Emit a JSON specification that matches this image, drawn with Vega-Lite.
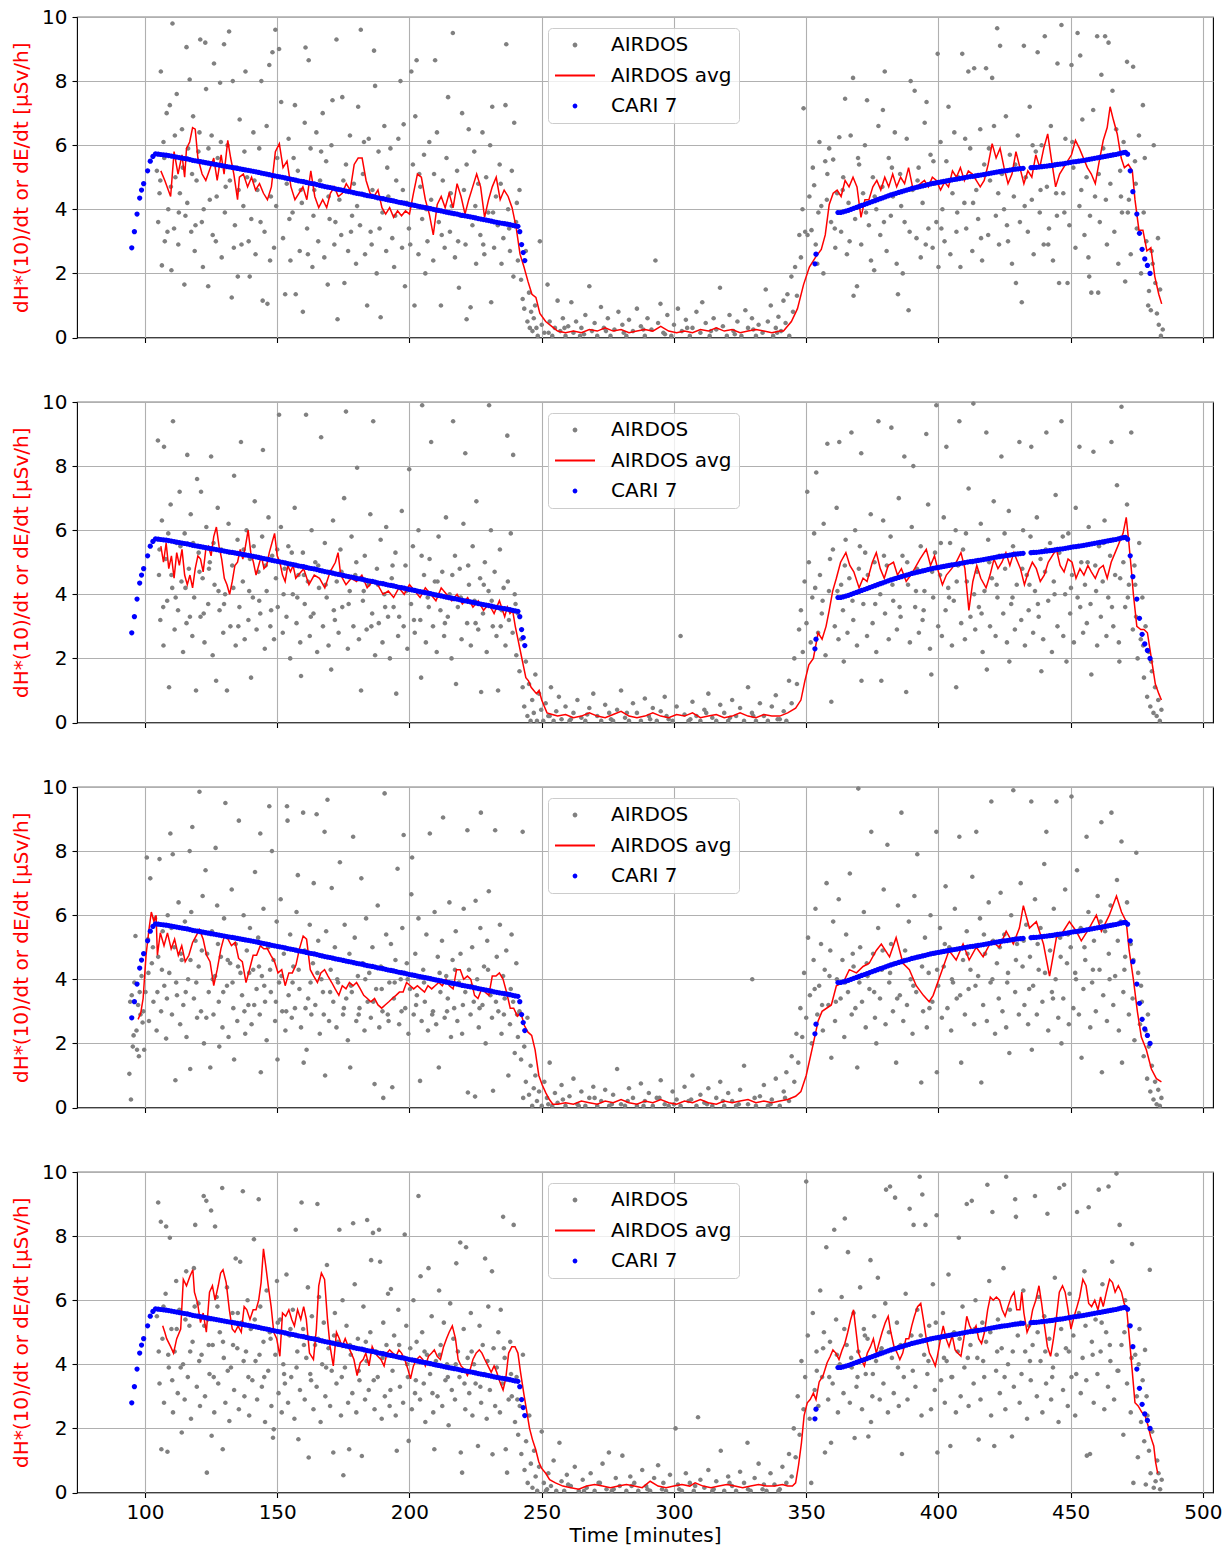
{
"$schema":"https://vega.github.io/schema/vega-lite/v6.json",
"background":"white",
"padding":{"left":11,"top":6,"right":5,"bottom":5},
"bounds":"flush",
"spacing":64,
"config":{
"view":{"stroke":"black","strokeWidth":1.1},
"font":"DejaVu Sans",
"axis":{"labelFont":"DejaVu Sans","labelFontSize":20,"labelColor":"black","titleFont":"DejaVu Sans","titleFontSize":20,"titleFontWeight":"normal","titleColor":"black","tickColor":"black","tickSize":5,"tickWidth":1.1,"labelPadding":5,"domain":false,"gridColor":"#b0b0b0","gridWidth":1.1,"labelFlush":false},
"legend":{"orient":"none","legendX":471,"legendY":11,"padding":7,"fillColor":"rgba(255,255,255,0.8)","strokeColor":"#cccccc","cornerRadius":4,"labelFont":"DejaVu Sans","labelFontSize":20,"labelColor":"black","labelOffset":16,"symbolSize":1600,"symbolStrokeWidth":0,"clipHeight":20,"rowPadding":10.5,"title":null}
},
"resolve":{"scale":{"color":"independent","shape":"independent"},"legend":{"color":"independent","shape":"independent"}},
"datasets":{
"c":[{"t":95,"v":2.8},{"t":96,"v":3.3},{"t":97,"v":3.85},{"t":98,"v":4.35},{"t":98.7,"v":4.6},{"t":99.5,"v":4.8},{"t":101,"v":5.2},{"t":102,"v":5.5},{"t":103,"v":5.65},{"t":104,"v":5.73},{"t":105,"v":5.72},{"t":106,"v":5.71},{"t":107,"v":5.7},{"t":108,"v":5.69},{"t":109,"v":5.675},{"t":110,"v":5.66},{"t":111,"v":5.645},{"t":112,"v":5.63},{"t":113,"v":5.615},{"t":114,"v":5.6},{"t":115,"v":5.585},{"t":116,"v":5.57},{"t":117,"v":5.55},{"t":118,"v":5.53},{"t":119,"v":5.515},{"t":120,"v":5.5},{"t":121,"v":5.485},{"t":122,"v":5.47},{"t":123,"v":5.455},{"t":124,"v":5.44},{"t":125,"v":5.425},{"t":126,"v":5.41},{"t":127,"v":5.395},{"t":128,"v":5.38},{"t":129,"v":5.365},{"t":130,"v":5.35},{"t":131,"v":5.335},{"t":132,"v":5.32},{"t":133,"v":5.305},{"t":134,"v":5.29},{"t":135,"v":5.275},{"t":136,"v":5.26},{"t":137,"v":5.245},{"t":138,"v":5.23},{"t":139,"v":5.215},{"t":140,"v":5.2},{"t":141,"v":5.185},{"t":142,"v":5.17},{"t":143,"v":5.15},{"t":144,"v":5.13},{"t":145,"v":5.115},{"t":146,"v":5.1},{"t":147,"v":5.08},{"t":148,"v":5.06},{"t":149,"v":5.045},{"t":150,"v":5.03},{"t":151,"v":5.015},{"t":152,"v":5.0},{"t":153,"v":4.98},{"t":154,"v":4.96},{"t":155,"v":4.945},{"t":156,"v":4.93},{"t":157,"v":4.91},{"t":158,"v":4.89},{"t":159,"v":4.875},{"t":160,"v":4.86},{"t":161,"v":4.84},{"t":162,"v":4.82},{"t":163,"v":4.805},{"t":164,"v":4.79},{"t":165,"v":4.77},{"t":166,"v":4.75},{"t":167,"v":4.73},{"t":168,"v":4.71},{"t":169,"v":4.695},{"t":170,"v":4.68},{"t":171,"v":4.66},{"t":172,"v":4.64},{"t":173,"v":4.625},{"t":174,"v":4.61},{"t":175,"v":4.59},{"t":176,"v":4.57},{"t":177,"v":4.555},{"t":178,"v":4.54},{"t":179,"v":4.52},{"t":180,"v":4.5},{"t":181,"v":4.485},{"t":182,"v":4.47},{"t":183,"v":4.45},{"t":184,"v":4.43},{"t":185,"v":4.415},{"t":186,"v":4.4},{"t":187,"v":4.38},{"t":188,"v":4.36},{"t":189,"v":4.345},{"t":190,"v":4.33},{"t":191,"v":4.31},{"t":192,"v":4.29},{"t":193,"v":4.275},{"t":194,"v":4.26},{"t":195,"v":4.24},{"t":196,"v":4.22},{"t":197,"v":4.205},{"t":198,"v":4.19},{"t":199,"v":4.17},{"t":200,"v":4.15},{"t":201,"v":4.135},{"t":202,"v":4.12},{"t":203,"v":4.1},{"t":204,"v":4.08},{"t":205,"v":4.065},{"t":206,"v":4.05},{"t":207,"v":4.035},{"t":208,"v":4.02},{"t":209,"v":4.0},{"t":210,"v":3.98},{"t":211,"v":3.965},{"t":212,"v":3.95},{"t":213,"v":3.93},{"t":214,"v":3.91},{"t":215,"v":3.895},{"t":216,"v":3.88},{"t":217,"v":3.865},{"t":218,"v":3.85},{"t":219,"v":3.83},{"t":220,"v":3.81},{"t":221,"v":3.795},{"t":222,"v":3.78},{"t":223,"v":3.765},{"t":224,"v":3.75},{"t":225,"v":3.73},{"t":226,"v":3.71},{"t":227,"v":3.695},{"t":228,"v":3.68},{"t":229,"v":3.665},{"t":230,"v":3.65},{"t":231,"v":3.63},{"t":232,"v":3.61},{"t":233,"v":3.595},{"t":234,"v":3.58},{"t":235,"v":3.565},{"t":236,"v":3.55},{"t":237,"v":3.535},{"t":238,"v":3.52},{"t":239,"v":3.5},{"t":240,"v":3.48},{"t":241,"v":3.47},{"t":241.7,"v":3.3},{"t":242.4,"v":2.9},{"t":243,"v":2.65},{"t":243.6,"v":2.4},{"t":353.3,"v":2.3},{"t":353.7,"v":2.6},{"t":362,"v":3.9},{"t":363,"v":3.9},{"t":364,"v":3.92},{"t":365,"v":3.945},{"t":366,"v":3.97},{"t":367,"v":4.0},{"t":368,"v":4.03},{"t":369,"v":4.06},{"t":370,"v":4.09},{"t":371,"v":4.12},{"t":372,"v":4.15},{"t":373,"v":4.18},{"t":374,"v":4.21},{"t":375,"v":4.24},{"t":376,"v":4.27},{"t":377,"v":4.3},{"t":378,"v":4.33},{"t":379,"v":4.36},{"t":380,"v":4.39},{"t":381,"v":4.42},{"t":382,"v":4.45},{"t":383,"v":4.475},{"t":384,"v":4.5},{"t":385,"v":4.525},{"t":386,"v":4.55},{"t":387,"v":4.575},{"t":388,"v":4.6},{"t":389,"v":4.625},{"t":390,"v":4.65},{"t":391,"v":4.67},{"t":392,"v":4.69},{"t":393,"v":4.71},{"t":394,"v":4.73},{"t":395,"v":4.75},{"t":396,"v":4.77},{"t":397,"v":4.79},{"t":398,"v":4.81},{"t":399,"v":4.825},{"t":400,"v":4.84},{"t":401,"v":4.855},{"t":402,"v":4.87},{"t":403,"v":4.885},{"t":404,"v":4.9},{"t":405,"v":4.915},{"t":406,"v":4.93},{"t":407,"v":4.945},{"t":408,"v":4.96},{"t":409,"v":4.975},{"t":410,"v":4.99},{"t":411,"v":5.005},{"t":412,"v":5.02},{"t":413,"v":5.03},{"t":414,"v":5.04},{"t":415,"v":5.055},{"t":416,"v":5.07},{"t":417,"v":5.085},{"t":418,"v":5.1},{"t":419,"v":5.115},{"t":420,"v":5.13},{"t":421,"v":5.145},{"t":422,"v":5.16},{"t":423,"v":5.175},{"t":424,"v":5.19},{"t":425,"v":5.2},{"t":426,"v":5.21},{"t":427,"v":5.225},{"t":428,"v":5.24},{"t":429,"v":5.25},{"t":430,"v":5.26},{"t":431,"v":5.27},{"t":432,"v":5.28},{"t":435,"v":5.3},{"t":436,"v":5.305},{"t":437,"v":5.31},{"t":438,"v":5.32},{"t":439,"v":5.33},{"t":440,"v":5.34},{"t":441,"v":5.35},{"t":442,"v":5.36},{"t":443,"v":5.37},{"t":444,"v":5.385},{"t":445,"v":5.4},{"t":446,"v":5.41},{"t":447,"v":5.42},{"t":448,"v":5.435},{"t":449,"v":5.45},{"t":450,"v":5.465},{"t":451,"v":5.48},{"t":452,"v":5.49},{"t":453,"v":5.5},{"t":454,"v":5.515},{"t":455,"v":5.53},{"t":456,"v":5.545},{"t":457,"v":5.56},{"t":458,"v":5.575},{"t":459,"v":5.59},{"t":460,"v":5.605},{"t":461,"v":5.62},{"t":462,"v":5.635},{"t":463,"v":5.65},{"t":464,"v":5.665},{"t":465,"v":5.68},{"t":466,"v":5.695},{"t":467,"v":5.71},{"t":468,"v":5.73},{"t":469,"v":5.75},{"t":470,"v":5.77},{"t":470.7,"v":5.78},{"t":471.5,"v":5.72},{"t":472.5,"v":5.2},{"t":473.5,"v":4.55},{"t":475,"v":3.85},{"t":476,"v":3.25},{"t":477,"v":2.75},{"t":478,"v":2.45},{"t":479,"v":2.25},{"t":480,"v":2.0}],
"r1":[{"t":106,"v":5.2},{"t":107.5,"v":4.9},{"t":109.7,"v":4.4},{"t":111,"v":5.8},{"t":112.5,"v":5.1},{"t":114,"v":5.7},{"t":115,"v":5.0},{"t":115.7,"v":5.9},{"t":116.9,"v":6.1},{"t":118,"v":6.55},{"t":119,"v":6.5},{"t":120,"v":5.6},{"t":121.6,"v":5.1},{"t":123,"v":4.9},{"t":124.5,"v":5.25},{"t":126,"v":5.6},{"t":127.3,"v":4.9},{"t":128.8,"v":5.7},{"t":129.9,"v":5.1},{"t":131.3,"v":6.15},{"t":132.4,"v":5.6},{"t":133.6,"v":5.1},{"t":135,"v":4.3},{"t":135.7,"v":5.0},{"t":137.2,"v":5.1},{"t":138.8,"v":4.7},{"t":140.3,"v":5.0},{"t":141.8,"v":4.6},{"t":143.3,"v":4.8},{"t":144.8,"v":4.5},{"t":146.3,"v":4.3},{"t":147.8,"v":4.7},{"t":149.3,"v":5.8},{"t":150.8,"v":6.05},{"t":152.2,"v":5.3},{"t":153.7,"v":5.5},{"t":155.2,"v":4.7},{"t":156.7,"v":4.3},{"t":158.2,"v":4.5},{"t":159.7,"v":4.7},{"t":161.2,"v":4.3},{"t":162.7,"v":5.2},{"t":164.2,"v":4.4},{"t":165.7,"v":4.05},{"t":167.2,"v":4.3},{"t":168.7,"v":4.05},{"t":170.1,"v":4.5},{"t":171.6,"v":4.7},{"t":173.1,"v":4.4},{"t":174.6,"v":4.5},{"t":176.1,"v":4.8},{"t":177.6,"v":4.6},{"t":179.1,"v":5.4},{"t":180.6,"v":5.6},{"t":182.1,"v":5.6},{"t":183.6,"v":4.9},{"t":185.1,"v":4.5},{"t":186.6,"v":4.4},{"t":188.1,"v":4.6},{"t":189.6,"v":4.05},{"t":191,"v":3.85},{"t":192.5,"v":4.05},{"t":194,"v":3.75},{"t":195.5,"v":3.95},{"t":197,"v":3.8},{"t":198.5,"v":3.95},{"t":200,"v":3.85},{"t":201.5,"v":4.5},{"t":203,"v":5.1},{"t":204.5,"v":5.0},{"t":206,"v":4.3},{"t":207.5,"v":3.85},{"t":209,"v":3.2},{"t":210.5,"v":4.15},{"t":212,"v":4.4},{"t":213.5,"v":4.05},{"t":215,"v":4.5},{"t":216.5,"v":4.05},{"t":218,"v":4.8},{"t":219.5,"v":4.4},{"t":221,"v":3.85},{"t":222.4,"v":4.3},{"t":223.9,"v":4.7},{"t":225.4,"v":5.1},{"t":226.9,"v":4.7},{"t":228.4,"v":3.75},{"t":229.9,"v":4.3},{"t":231.3,"v":4.7},{"t":232.8,"v":5.0},{"t":234.3,"v":4.3},{"t":235.8,"v":4.6},{"t":237.3,"v":4.4},{"t":238.8,"v":4.05},{"t":240.3,"v":3.45},{"t":241.8,"v":2.6},{"t":243.3,"v":2.2},{"t":244.8,"v":1.75},{"t":246.3,"v":1.35},{"t":247.8,"v":1.25},{"t":249.3,"v":0.75},{"t":251.5,"v":0.5},{"t":254.5,"v":0.3},{"t":256,"v":0.2},{"t":259,"v":0.15},{"t":262,"v":0.2},{"t":265,"v":0.15},{"t":268,"v":0.25},{"t":271,"v":0.2},{"t":274,"v":0.3},{"t":277,"v":0.2},{"t":280,"v":0.25},{"t":283,"v":0.15},{"t":286,"v":0.2},{"t":289,"v":0.25},{"t":292,"v":0.2},{"t":295,"v":0.35},{"t":298,"v":0.2},{"t":301,"v":0.15},{"t":304,"v":0.2},{"t":307,"v":0.15},{"t":310,"v":0.25},{"t":313,"v":0.2},{"t":316,"v":0.3},{"t":319,"v":0.2},{"t":322,"v":0.25},{"t":325,"v":0.15},{"t":328,"v":0.2},{"t":331,"v":0.25},{"t":334,"v":0.2},{"t":337,"v":0.15},{"t":340,"v":0.2},{"t":341.4,"v":0.2},{"t":344.4,"v":0.5},{"t":346.7,"v":0.9},{"t":349,"v":1.65},{"t":351.2,"v":2.2},{"t":353.5,"v":2.5},{"t":355.7,"v":2.75},{"t":357.2,"v":3.2},{"t":358.7,"v":4.15},{"t":360.2,"v":4.5},{"t":361.7,"v":4.6},{"t":363.2,"v":4.4},{"t":364.7,"v":4.9},{"t":366.2,"v":4.7},{"t":367.7,"v":5.0},{"t":369.2,"v":4.7},{"t":370.7,"v":3.75},{"t":372.2,"v":4.3},{"t":373.7,"v":4.3},{"t":375.2,"v":4.7},{"t":376.7,"v":4.9},{"t":378.2,"v":4.6},{"t":379.7,"v":5.0},{"t":381.2,"v":4.7},{"t":382.7,"v":5.1},{"t":384.2,"v":4.7},{"t":385.7,"v":5.0},{"t":387.2,"v":4.8},{"t":388.7,"v":5.3},{"t":390.2,"v":4.7},{"t":391.7,"v":4.7},{"t":393.2,"v":4.8},{"t":394.7,"v":4.9},{"t":396.2,"v":4.7},{"t":397.7,"v":5.0},{"t":399.2,"v":4.9},{"t":400.8,"v":4.6},{"t":402.3,"v":4.85},{"t":403.8,"v":4.7},{"t":405.3,"v":5.2},{"t":406.8,"v":5.0},{"t":408.3,"v":5.3},{"t":409.8,"v":4.9},{"t":411.3,"v":5.2},{"t":412.8,"v":5.1},{"t":414.3,"v":4.9},{"t":415.8,"v":4.7},{"t":417.3,"v":4.9},{"t":418.8,"v":5.4},{"t":420.3,"v":6.05},{"t":421.8,"v":5.6},{"t":423.3,"v":5.9},{"t":424.8,"v":5.3},{"t":426.3,"v":4.8},{"t":427.8,"v":5.1},{"t":429.3,"v":5.8},{"t":430.8,"v":5.3},{"t":432.3,"v":4.8},{"t":433.8,"v":5.2},{"t":435.3,"v":5.0},{"t":436.8,"v":5.7},{"t":438.3,"v":5.3},{"t":439.8,"v":5.9},{"t":441.3,"v":6.35},{"t":442.8,"v":5.5},{"t":444.3,"v":4.7},{"t":445.8,"v":5.1},{"t":447.3,"v":5.3},{"t":448.8,"v":5.5},{"t":450.3,"v":5.7},{"t":451.8,"v":6.15},{"t":453.3,"v":5.9},{"t":454.8,"v":5.6},{"t":456.3,"v":5.3},{"t":457.8,"v":5.1},{"t":459.3,"v":4.8},{"t":460.8,"v":5.5},{"t":462.3,"v":6.15},{"t":463.8,"v":6.55},{"t":464.9,"v":7.2},{"t":466.1,"v":6.8},{"t":467.6,"v":6.35},{"t":469.1,"v":5.6},{"t":470.3,"v":5.3},{"t":471.8,"v":5.4},{"t":473.3,"v":5.2},{"t":474.3,"v":4.3},{"t":475.8,"v":3.35},{"t":477.3,"v":3.35},{"t":478.8,"v":2.7},{"t":480.3,"v":2.8},{"t":481.8,"v":1.9},{"t":483.3,"v":1.35},{"t":484.4,"v":1.05}],
"r2":[{"t":106,"v":5.5},{"t":107,"v":5.0},{"t":108,"v":5.6},{"t":109,"v":4.8},{"t":110,"v":5.2},{"t":111,"v":4.5},{"t":112,"v":5.3},{"t":113,"v":4.9},{"t":114,"v":5.4},{"t":115,"v":4.6},{"t":116,"v":4.3},{"t":117,"v":4.6},{"t":118,"v":4.2},{"t":119,"v":4.8},{"t":120,"v":5.2},{"t":121,"v":5.1},{"t":122,"v":4.7},{"t":123,"v":5.4},{"t":124,"v":5.5},{"t":125,"v":5.2},{"t":126,"v":5.8},{"t":127,"v":6.1},{"t":128,"v":5.5},{"t":129,"v":5.1},{"t":130,"v":4.5},{"t":131,"v":4.3},{"t":132,"v":4.0},{"t":133,"v":4.4},{"t":134,"v":4.9},{"t":135,"v":5.0},{"t":136,"v":5.4},{"t":137,"v":5.1},{"t":138,"v":5.5},{"t":139,"v":6.0},{"t":140,"v":5.3},{"t":141,"v":5.0},{"t":142,"v":4.6},{"t":143,"v":4.9},{"t":144,"v":5.2},{"t":145,"v":4.8},{"t":146,"v":4.9},{"t":147,"v":5.3},{"t":148,"v":5.6},{"t":149,"v":5.9},{"t":150,"v":5.2},{"t":151,"v":5.0},{"t":152,"v":4.6},{"t":153,"v":4.4},{"t":154,"v":4.9},{"t":155,"v":4.7},{"t":156,"v":4.9},{"t":157,"v":4.5},{"t":158,"v":4.6},{"t":160,"v":4.8},{"t":162,"v":4.3},{"t":164,"v":4.6},{"t":166,"v":4.5},{"t":168,"v":4.2},{"t":170,"v":4.7},{"t":172,"v":5.0},{"t":173,"v":5.3},{"t":174,"v":4.6},{"t":176,"v":4.3},{"t":178,"v":4.5},{"t":180,"v":4.4},{"t":182,"v":4.6},{"t":184,"v":4.2},{"t":186,"v":4.4},{"t":188,"v":4.3},{"t":190,"v":4.0},{"t":192,"v":4.1},{"t":194,"v":3.9},{"t":196,"v":4.2},{"t":198,"v":4.0},{"t":200,"v":4.3},{"t":202,"v":4.1},{"t":204,"v":3.9},{"t":206,"v":4.2},{"t":208,"v":4.0},{"t":210,"v":3.8},{"t":212,"v":4.2},{"t":214,"v":4.0},{"t":216,"v":3.8},{"t":218,"v":4.0},{"t":220,"v":3.7},{"t":222,"v":3.9},{"t":224,"v":3.6},{"t":226,"v":3.8},{"t":228,"v":3.5},{"t":230,"v":3.7},{"t":232,"v":3.4},{"t":234,"v":3.8},{"t":236,"v":3.3},{"t":237,"v":3.6},{"t":238,"v":3.4},{"t":239,"v":3.5},{"t":240,"v":3.0},{"t":241,"v":2.6},{"t":242,"v":2.2},{"t":243,"v":1.8},{"t":244,"v":1.4},{"t":245,"v":1.3},{"t":246,"v":1.1},{"t":247,"v":1.0},{"t":248,"v":0.9},{"t":249,"v":1.0},{"t":250,"v":0.7},{"t":251,"v":0.5},{"t":252,"v":0.3},{"t":254,"v":0.25},{"t":256,"v":0.2},{"t":259,"v":0.25},{"t":262,"v":0.15},{"t":265,"v":0.2},{"t":268,"v":0.3},{"t":271,"v":0.2},{"t":274,"v":0.15},{"t":277,"v":0.25},{"t":280,"v":0.35},{"t":283,"v":0.2},{"t":286,"v":0.15},{"t":289,"v":0.2},{"t":292,"v":0.3},{"t":295,"v":0.2},{"t":298,"v":0.15},{"t":301,"v":0.25},{"t":304,"v":0.2},{"t":307,"v":0.3},{"t":310,"v":0.15},{"t":313,"v":0.2},{"t":316,"v":0.25},{"t":319,"v":0.15},{"t":322,"v":0.2},{"t":325,"v":0.3},{"t":328,"v":0.2},{"t":331,"v":0.15},{"t":334,"v":0.25},{"t":337,"v":0.2},{"t":340,"v":0.2},{"t":343,"v":0.3},{"t":346,"v":0.45},{"t":348,"v":0.7},{"t":349.5,"v":1.3},{"t":351,"v":1.8},{"t":352.7,"v":2.0},{"t":354.5,"v":2.8},{"t":356,"v":2.6},{"t":357.5,"v":3.0},{"t":358.7,"v":3.5},{"t":360,"v":4.1},{"t":361.4,"v":4.5},{"t":363,"v":5.0},{"t":365,"v":5.3},{"t":366.5,"v":4.9},{"t":368,"v":4.7},{"t":370,"v":4.2},{"t":371.5,"v":4.5},{"t":373,"v":4.4},{"t":375,"v":5.0},{"t":376.5,"v":5.3},{"t":378,"v":4.8},{"t":379.5,"v":4.5},{"t":381,"v":4.9},{"t":383,"v":5.0},{"t":384.5,"v":4.6},{"t":386,"v":4.8},{"t":387.8,"v":4.4},{"t":389.5,"v":4.6},{"t":391,"v":4.8},{"t":393,"v":5.1},{"t":395.4,"v":5.4},{"t":397,"v":4.9},{"t":398.5,"v":5.2},{"t":400,"v":4.7},{"t":401.5,"v":4.3},{"t":403,"v":4.6},{"t":405,"v":4.8},{"t":406.7,"v":5.0},{"t":408.5,"v":5.3},{"t":410,"v":4.8},{"t":411.5,"v":3.5},{"t":413,"v":4.4},{"t":414.5,"v":4.9},{"t":416,"v":4.5},{"t":418,"v":4.2},{"t":419.5,"v":4.6},{"t":421,"v":5.1},{"t":422.5,"v":4.8},{"t":424,"v":5.0},{"t":425.5,"v":5.3},{"t":427,"v":4.9},{"t":428.5,"v":5.3},{"t":431,"v":4.8},{"t":432.5,"v":4.3},{"t":434,"v":4.7},{"t":435.5,"v":5.0},{"t":437,"v":4.8},{"t":438.5,"v":4.4},{"t":440,"v":4.6},{"t":441.5,"v":5.0},{"t":443,"v":5.2},{"t":444.6,"v":5.4},{"t":446,"v":4.9},{"t":447.5,"v":4.7},{"t":449,"v":5.1},{"t":450.5,"v":5.0},{"t":452,"v":4.5},{"t":453.5,"v":4.8},{"t":455,"v":4.6},{"t":456.5,"v":4.9},{"t":457.8,"v":4.7},{"t":459.3,"v":4.5},{"t":460.8,"v":4.8},{"t":462.3,"v":4.9},{"t":463.8,"v":4.5},{"t":465.3,"v":5.0},{"t":466.8,"v":5.3},{"t":468.3,"v":5.6},{"t":469.8,"v":5.9},{"t":471,"v":6.4},{"t":472,"v":5.6},{"t":473,"v":4.7},{"t":473.7,"v":4.0},{"t":475,"v":3.0},{"t":476.5,"v":2.9},{"t":477.7,"v":2.9},{"t":479,"v":2.8},{"t":480.5,"v":2.0},{"t":482,"v":1.2},{"t":483.3,"v":0.9},{"t":484.3,"v":0.7}],
"r3":[{"t":97.4,"v":2.75},{"t":98.4,"v":2.95},{"t":99.3,"v":3.4},{"t":100.4,"v":4.75},{"t":101.5,"v":5.55},{"t":102.4,"v":6.1},{"t":103.4,"v":5.8},{"t":104.2,"v":6.0},{"t":104.7,"v":4.75},{"t":105.8,"v":5.45},{"t":107.2,"v":5.05},{"t":108.5,"v":5.45},{"t":109.9,"v":4.95},{"t":111.2,"v":5.25},{"t":112.6,"v":4.75},{"t":113.9,"v":5.05},{"t":115.2,"v":4.55},{"t":116.6,"v":4.75},{"t":118,"v":5.15},{"t":119.3,"v":5.35},{"t":120.6,"v":5.55},{"t":122,"v":5.25},{"t":123.3,"v":4.75},{"t":124.6,"v":4.55},{"t":126,"v":3.8},{"t":127.3,"v":4.3},{"t":128.7,"v":4.95},{"t":130,"v":5.35},{"t":131.4,"v":5.25},{"t":132.7,"v":5.05},{"t":134.1,"v":5.15},{"t":135.4,"v":4.65},{"t":136.8,"v":4.55},{"t":138.2,"v":3.9},{"t":139.5,"v":4.3},{"t":140.9,"v":4.75},{"t":142.2,"v":4.75},{"t":143.6,"v":5.05},{"t":144.9,"v":4.95},{"t":146.3,"v":4.95},{"t":147.6,"v":4.75},{"t":149,"v":4.55},{"t":150.3,"v":4.2},{"t":151.7,"v":4.3},{"t":153,"v":3.8},{"t":154.4,"v":4.2},{"t":155.7,"v":4.2},{"t":157.1,"v":4.45},{"t":158.4,"v":4.95},{"t":159.8,"v":5.35},{"t":161.1,"v":5.25},{"t":162.5,"v":4.3},{"t":163.8,"v":4.1},{"t":165.2,"v":3.9},{"t":166.5,"v":4.2},{"t":167.9,"v":4.3},{"t":169.2,"v":4.1},{"t":170.6,"v":3.9},{"t":171.9,"v":3.7},{"t":173.3,"v":3.5},{"t":174.6,"v":3.8},{"t":176,"v":3.7},{"t":177.3,"v":3.9},{"t":178.7,"v":3.8},{"t":180,"v":3.9},{"t":181.4,"v":3.7},{"t":182.7,"v":3.5},{"t":184.1,"v":3.4},{"t":185.4,"v":3.3},{"t":186.8,"v":3.4},{"t":188.1,"v":3.2},{"t":189.5,"v":3.1},{"t":190.8,"v":3.2},{"t":192.2,"v":3.3},{"t":193.5,"v":3.4},{"t":194.9,"v":3.5},{"t":196.2,"v":3.6},{"t":197.6,"v":3.6},{"t":198.9,"v":3.9},{"t":200.3,"v":3.8},{"t":201.6,"v":3.7},{"t":203,"v":3.8},{"t":204.3,"v":3.7},{"t":205.7,"v":3.6},{"t":207,"v":3.8},{"t":208.4,"v":3.7},{"t":209.7,"v":3.8},{"t":211.1,"v":3.9},{"t":212.4,"v":3.8},{"t":213.8,"v":4.0},{"t":215.1,"v":3.8},{"t":216.5,"v":3.7},{"t":217.8,"v":4.3},{"t":219.2,"v":4.3},{"t":220.5,"v":4.0},{"t":221.9,"v":4.1},{"t":223.2,"v":4.0},{"t":224.6,"v":3.5},{"t":225.9,"v":3.4},{"t":227.3,"v":3.7},{"t":228.6,"v":3.6},{"t":230,"v":3.5},{"t":231.3,"v":4.1},{"t":232.7,"v":4.1},{"t":234,"v":4.2},{"t":235.4,"v":4.0},{"t":236.7,"v":3.6},{"t":238.1,"v":3.1},{"t":239.4,"v":3.1},{"t":240.8,"v":2.85},{"t":242.1,"v":2.95},{"t":243.5,"v":2.55},{"t":244.8,"v":2.35},{"t":246.2,"v":2.25},{"t":247.5,"v":1.8},{"t":248.9,"v":1.0},{"t":250.2,"v":0.7},{"t":251.6,"v":0.45},{"t":252.9,"v":0.25},{"t":254.2,"v":0.1},{"t":256,"v":0.1},{"t":259,"v":0.15},{"t":262,"v":0.1},{"t":265,"v":0.2},{"t":268,"v":0.15},{"t":271,"v":0.1},{"t":274,"v":0.2},{"t":277,"v":0.15},{"t":280,"v":0.25},{"t":283,"v":0.15},{"t":286,"v":0.1},{"t":289,"v":0.2},{"t":292,"v":0.15},{"t":295,"v":0.25},{"t":298,"v":0.15},{"t":301,"v":0.1},{"t":304,"v":0.2},{"t":307,"v":0.15},{"t":310,"v":0.25},{"t":313,"v":0.15},{"t":316,"v":0.1},{"t":319,"v":0.2},{"t":322,"v":0.15},{"t":325,"v":0.2},{"t":328,"v":0.25},{"t":331,"v":0.15},{"t":334,"v":0.2},{"t":337,"v":0.15},{"t":340,"v":0.2},{"t":343,"v":0.25},{"t":346,"v":0.35},{"t":348,"v":0.5},{"t":350,"v":1.0},{"t":352.7,"v":2.0},{"t":354.5,"v":2.7},{"t":356,"v":3.0},{"t":359.5,"v":3.2},{"t":361.4,"v":3.8},{"t":364,"v":3.9},{"t":366.3,"v":4.3},{"t":369,"v":4.2},{"t":371.5,"v":4.4},{"t":373.8,"v":4.5},{"t":376.5,"v":4.9},{"t":378.4,"v":5.1},{"t":381.5,"v":4.7},{"t":384,"v":5.3},{"t":386.6,"v":4.5},{"t":389,"v":4.3},{"t":391.6,"v":3.8},{"t":394.3,"v":3.5},{"t":396.5,"v":3.3},{"t":398,"v":3.5},{"t":401,"v":4.2},{"t":404,"v":4.9},{"t":406.7,"v":4.6},{"t":409.3,"v":5.1},{"t":411.6,"v":4.6},{"t":414.3,"v":5.0},{"t":416.9,"v":4.7},{"t":420,"v":5.2},{"t":423,"v":5.0},{"t":425.6,"v":5.5},{"t":428.3,"v":5.1},{"t":430.6,"v":5.6},{"t":432.1,"v":6.3},{"t":434.4,"v":5.6},{"t":437,"v":5.8},{"t":439.7,"v":5.1},{"t":442,"v":4.1},{"t":444.6,"v":5.3},{"t":447.2,"v":5.5},{"t":449.5,"v":5.8},{"t":452.1,"v":5.5},{"t":454,"v":5.2},{"t":457,"v":5.6},{"t":459.7,"v":6.0},{"t":461.6,"v":5.5},{"t":464.6,"v":6.0},{"t":467.3,"v":6.6},{"t":469.2,"v":6.1},{"t":471,"v":5.8},{"t":472.1,"v":4.9},{"t":473.7,"v":4.0},{"t":475.2,"v":3.0},{"t":476.7,"v":2.2},{"t":478.6,"v":1.8},{"t":480.5,"v":1.2},{"t":482.4,"v":0.9},{"t":484.3,"v":0.8}],
"r4":[{"t":106.7,"v":5.2},{"t":107.5,"v":5.0},{"t":108.2,"v":4.8},{"t":109.7,"v":4.55},{"t":110.8,"v":4.35},{"t":112,"v":4.8},{"t":113.5,"v":5.1},{"t":114.5,"v":6.65},{"t":115.7,"v":6.45},{"t":117,"v":6.75},{"t":118.1,"v":6.95},{"t":118.7,"v":6.25},{"t":119.9,"v":5.9},{"t":121,"v":5.3},{"t":122,"v":5.6},{"t":123.2,"v":5.0},{"t":124.4,"v":6.25},{"t":125.5,"v":6.45},{"t":126.5,"v":6.0},{"t":127.7,"v":6.45},{"t":128.6,"v":6.85},{"t":129.5,"v":6.95},{"t":130.7,"v":6.55},{"t":131.9,"v":5.7},{"t":133,"v":5.1},{"t":134,"v":5.0},{"t":135.2,"v":5.2},{"t":136.4,"v":5.0},{"t":137.5,"v":5.8},{"t":138.5,"v":5.7},{"t":139.7,"v":5.4},{"t":140.9,"v":5.7},{"t":142,"v":5.7},{"t":143,"v":6.0},{"t":143.9,"v":6.55},{"t":144.8,"v":7.6},{"t":145.7,"v":7.05},{"t":146.6,"v":6.45},{"t":147.7,"v":5.8},{"t":148.7,"v":5.0},{"t":149.8,"v":4.8},{"t":151,"v":4.25},{"t":152,"v":5.6},{"t":153.2,"v":5.5},{"t":154.4,"v":5.7},{"t":155.5,"v":5.4},{"t":156.5,"v":5.2},{"t":157.7,"v":5.7},{"t":158.9,"v":5.4},{"t":160,"v":5.8},{"t":161,"v":5.4},{"t":162.2,"v":4.35},{"t":163.7,"v":4.15},{"t":164.8,"v":5.1},{"t":165.7,"v":6.45},{"t":166.7,"v":6.85},{"t":167.9,"v":6.65},{"t":169,"v":5.4},{"t":170,"v":4.55},{"t":171.2,"v":3.95},{"t":172.4,"v":5.0},{"t":173.5,"v":4.8},{"t":174.5,"v":4.55},{"t":175.7,"v":4.8},{"t":176.9,"v":4.55},{"t":178,"v":4.35},{"t":179,"v":4.15},{"t":180.2,"v":3.65},{"t":181.4,"v":4.05},{"t":182.5,"v":4.15},{"t":183.5,"v":4.35},{"t":184.7,"v":3.95},{"t":185.9,"v":4.55},{"t":187,"v":4.35},{"t":188,"v":4.25},{"t":189.2,"v":4.15},{"t":190.4,"v":3.95},{"t":191.5,"v":4.35},{"t":192.5,"v":4.45},{"t":193.7,"v":4.35},{"t":194.9,"v":4.25},{"t":196,"v":4.45},{"t":197,"v":4.35},{"t":198.2,"v":4.15},{"t":199.4,"v":3.85},{"t":200.4,"v":3.55},{"t":201.5,"v":3.95},{"t":202.7,"v":4.15},{"t":203.9,"v":4.25},{"t":205,"v":4.15},{"t":206,"v":3.95},{"t":207.2,"v":4.25},{"t":208.4,"v":4.35},{"t":209.4,"v":4.45},{"t":210.5,"v":4.25},{"t":211.7,"v":4.15},{"t":212.9,"v":4.55},{"t":214,"v":4.8},{"t":215,"v":5.0},{"t":216.2,"v":5.2},{"t":217.4,"v":4.8},{"t":218.4,"v":4.15},{"t":219.5,"v":3.95},{"t":220.7,"v":3.85},{"t":221.9,"v":3.65},{"t":223,"v":3.85},{"t":224,"v":4.15},{"t":225.2,"v":4.35},{"t":226.4,"v":4.45},{"t":227.4,"v":4.35},{"t":228.5,"v":4.15},{"t":229.7,"v":3.95},{"t":230.9,"v":3.75},{"t":232,"v":3.95},{"t":233,"v":3.75},{"t":234.2,"v":3.45},{"t":235.4,"v":3.2},{"t":236.4,"v":3.55},{"t":237.5,"v":4.35},{"t":238.7,"v":4.55},{"t":239.9,"v":4.55},{"t":241,"v":4.35},{"t":242,"v":3.75},{"t":243.2,"v":3.1},{"t":244.4,"v":2.5},{"t":245.4,"v":2.0},{"t":246.5,"v":1.65},{"t":247.7,"v":1.35},{"t":248.9,"v":0.95},{"t":250,"v":0.75},{"t":251.5,"v":0.6},{"t":253,"v":0.4},{"t":255.2,"v":0.3},{"t":258,"v":0.2},{"t":261,"v":0.15},{"t":264,"v":0.1},{"t":267,"v":0.2},{"t":270,"v":0.25},{"t":273,"v":0.2},{"t":276,"v":0.15},{"t":279,"v":0.2},{"t":282,"v":0.25},{"t":285,"v":0.2},{"t":288,"v":0.15},{"t":291,"v":0.35},{"t":294,"v":0.2},{"t":297,"v":0.15},{"t":300,"v":0.2},{"t":303,"v":0.25},{"t":306,"v":0.2},{"t":308,"v":0.3},{"t":311,"v":0.2},{"t":314,"v":0.15},{"t":317,"v":0.2},{"t":320,"v":0.25},{"t":323,"v":0.2},{"t":326,"v":0.15},{"t":329,"v":0.2},{"t":332,"v":0.25},{"t":335,"v":0.2},{"t":338,"v":0.2},{"t":341,"v":0.25},{"t":343,"v":0.2},{"t":344.8,"v":0.2},{"t":346,"v":0.3},{"t":347.1,"v":0.85},{"t":348.2,"v":1.55},{"t":349.2,"v":2.4},{"t":350.4,"v":2.8},{"t":351.5,"v":2.9},{"t":352.7,"v":3.1},{"t":353.7,"v":2.9},{"t":354.9,"v":3.45},{"t":356.4,"v":3.65},{"t":357.9,"v":4.05},{"t":359.1,"v":4.25},{"t":360.1,"v":4.45},{"t":361.2,"v":4.35},{"t":362.4,"v":4.15},{"t":363.6,"v":4.45},{"t":364.6,"v":4.65},{"t":365.7,"v":5.0},{"t":366.8,"v":5.4},{"t":367.9,"v":5.7},{"t":368.6,"v":5.2},{"t":369.8,"v":4.35},{"t":370.8,"v":4.15},{"t":372,"v":3.95},{"t":373.1,"v":4.35},{"t":374.3,"v":4.55},{"t":375.4,"v":4.8},{"t":376.5,"v":4.35},{"t":377.5,"v":4.65},{"t":378.7,"v":5.0},{"t":379.9,"v":5.3},{"t":381,"v":5.5},{"t":382,"v":5.0},{"t":383.2,"v":4.55},{"t":384.4,"v":4.35},{"t":385.4,"v":4.15},{"t":386.5,"v":4.35},{"t":387.7,"v":4.8},{"t":388.8,"v":4.8},{"t":389.9,"v":5.2},{"t":390.9,"v":5.5},{"t":392.1,"v":5.8},{"t":393.3,"v":5.9},{"t":394.3,"v":5.4},{"t":395.4,"v":4.8},{"t":396.6,"v":4.35},{"t":397.8,"v":4.15},{"t":398.8,"v":3.95},{"t":399.6,"v":4.25},{"t":400.8,"v":4.8},{"t":401.8,"v":5.2},{"t":402.9,"v":4.8},{"t":404,"v":4.55},{"t":405.2,"v":4.9},{"t":406.3,"v":4.45},{"t":407.3,"v":4.35},{"t":408.5,"v":4.25},{"t":409.6,"v":4.8},{"t":410.7,"v":5.5},{"t":411.8,"v":5.2},{"t":413,"v":5.0},{"t":414.2,"v":5.2},{"t":415.2,"v":4.8},{"t":416.3,"v":4.65},{"t":417.4,"v":5.0},{"t":418.6,"v":5.7},{"t":419.6,"v":6.1},{"t":420.7,"v":6.0},{"t":421.9,"v":6.1},{"t":423.1,"v":6.0},{"t":424.1,"v":5.7},{"t":425.2,"v":5.5},{"t":426.3,"v":5.8},{"t":427.5,"v":6.1},{"t":428.6,"v":6.25},{"t":429.6,"v":5.7},{"t":430.8,"v":5.7},{"t":431.5,"v":6.25},{"t":432.3,"v":5.6},{"t":433.5,"v":5.0},{"t":434.5,"v":5.2},{"t":435.6,"v":5.7},{"t":436.8,"v":6.0},{"t":438,"v":6.45},{"t":439,"v":5.9},{"t":440.1,"v":5.2},{"t":441.2,"v":4.55},{"t":442.4,"v":4.25},{"t":443.5,"v":4.8},{"t":444.5,"v":5.4},{"t":445.7,"v":6.25},{"t":446.9,"v":6.45},{"t":447.9,"v":6.25},{"t":449,"v":5.7},{"t":450.1,"v":5.1},{"t":451.3,"v":5.5},{"t":452.4,"v":5.8},{"t":453.4,"v":6.1},{"t":454.6,"v":6.65},{"t":455.8,"v":6.45},{"t":456.8,"v":5.9},{"t":457.9,"v":5.8},{"t":459.1,"v":6.0},{"t":460.3,"v":5.7},{"t":461.3,"v":6.1},{"t":462.3,"v":5.8},{"t":463.5,"v":6.25},{"t":464.7,"v":6.65},{"t":465.8,"v":6.55},{"t":466.8,"v":6.25},{"t":468,"v":6.45},{"t":469.2,"v":6.25},{"t":470.2,"v":5.9},{"t":471.2,"v":5.7},{"t":472.2,"v":4.8},{"t":473.2,"v":3.85},{"t":474.3,"v":2.8},{"t":475.5,"v":2.7},{"t":476.9,"v":2.5},{"t":478.1,"v":2.4},{"t":479.2,"v":2.1},{"t":480.2,"v":1.75},{"t":481.4,"v":1.45},{"t":482.1,"v":0.95},{"t":482.9,"v":0.6}],
"g1":[{"t":104.5,"v":5.2},{"t":105,"v":3.6},{"t":105.5,"v":4.5},{"t":106,"v":8.3},{"t":106.4,"v":2.25},{"t":107,"v":6.1},{"t":107.5,"v":3.0},{"t":108.2,"v":7.0},{"t":108.8,"v":4.0},{"t":109.4,"v":7.25},{"t":110,"v":2.1},{"t":110.4,"v":9.8},{"t":111,"v":3.4},{"t":111.5,"v":5.0},{"t":112,"v":7.6},{"t":112.6,"v":2.9},{"t":113.2,"v":4.5},{"t":114,"v":6.5},{"t":114.9,"v":1.65},{"t":115.3,"v":3.8},{"t":115.7,"v":9.06},{"t":116.3,"v":5.9},{"t":116.9,"v":8.05},{"t":117.5,"v":3.3},{"t":118.2,"v":6.9},{"t":118.8,"v":2.7},{"t":119.5,"v":4.9},{"t":120.2,"v":5.8},{"t":120.9,"v":9.3},{"t":121.5,"v":3.6},{"t":121.9,"v":2.2},{"t":122.8,"v":9.2},{"t":123.1,"v":7.75},{"t":123.9,"v":1.6},{"t":124.5,"v":4.3},{"t":125.2,"v":6.3},{"t":126.1,"v":8.55},{"t":126.8,"v":3.0},{"t":127.5,"v":5.6},{"t":128.4,"v":7.95},{"t":129,"v":2.5},{"t":129.9,"v":9.15},{"t":130.5,"v":4.7},{"t":131.2,"v":6.0},{"t":131.8,"v":9.55},{"t":132.8,"v":1.25},{"t":133.2,"v":8.0},{"t":134,"v":3.5},{"t":134.7,"v":5.3},{"t":135.1,"v":1.9},{"t":135.8,"v":6.8},{"t":136.5,"v":2.9},{"t":137.2,"v":4.1},{"t":138,"v":8.3},{"t":138.6,"v":5.0},{"t":139.6,"v":1.9},{"t":140.2,"v":3.7},{"t":141,"v":6.4},{"t":141.8,"v":2.6},{"t":142.5,"v":4.6},{"t":143.2,"v":5.9},{"t":144,"v":8.0},{"t":144.5,"v":1.15},{"t":145.2,"v":3.3},{"t":146,"v":6.6},{"t":146.3,"v":1.05},{"t":147,"v":8.5},{"t":147.6,"v":4.4},{"t":148.2,"v":8.9},{"t":148.8,"v":2.8},{"t":149.3,"v":9.6},{"t":150,"v":5.6},{"t":150.7,"v":9.0},{"t":151.5,"v":7.35},{"t":152.2,"v":3.1},{"t":153,"v":1.35},{"t":153.6,"v":4.8},{"t":154.3,"v":6.2},{"t":155,"v":2.4},{"t":155.8,"v":3.9},{"t":156.7,"v":7.25},{"t":157,"v":1.35},{"t":157.8,"v":5.2},{"t":158.5,"v":2.7},{"t":159.3,"v":4.2},{"t":159.7,"v":0.8},{"t":160.4,"v":6.7},{"t":160.7,"v":9.05},{"t":161.3,"v":3.4},{"t":161.9,"v":8.65},{"t":162.6,"v":5.9},{"t":163.3,"v":2.2},{"t":164,"v":4.6},{"t":164.8,"v":6.4},{"t":165.5,"v":3.0},{"t":166.2,"v":4.9},{"t":167.2,"v":7.0},{"t":167.8,"v":2.5},{"t":168.5,"v":5.5},{"t":169.1,"v":1.65},{"t":169.8,"v":3.7},{"t":170.5,"v":6.0},{"t":170.9,"v":7.4},{"t":171.6,"v":2.9},{"t":172.4,"v":9.3},{"t":172.8,"v":0.57},{"t":173.5,"v":4.3},{"t":174.2,"v":3.2},{"t":174.6,"v":7.5},{"t":175.4,"v":1.7},{"t":176,"v":5.4},{"t":176.8,"v":2.7},{"t":177.5,"v":6.3},{"t":178.3,"v":3.8},{"t":179,"v":4.8},{"t":179.8,"v":2.3},{"t":180.6,"v":7.2},{"t":181.3,"v":3.5},{"t":181.6,"v":9.6},{"t":182.4,"v":5.1},{"t":183.2,"v":2.6},{"t":184,"v":1.0},{"t":184.6,"v":6.2},{"t":185.3,"v":3.3},{"t":186,"v":4.6},{"t":186.6,"v":8.95},{"t":187,"v":7.85},{"t":187.6,"v":2.0},{"t":188.3,"v":5.8},{"t":189.1,"v":0.63},{"t":189.8,"v":3.9},{"t":190.5,"v":6.6},{"t":191.2,"v":2.7},{"t":192,"v":4.4},{"t":192.8,"v":5.9},{"t":193.5,"v":3.1},{"t":194.2,"v":2.2},{"t":195,"v":4.9},{"t":195.8,"v":6.2},{"t":196.6,"v":8.0},{"t":197.2,"v":2.8},{"t":197.8,"v":6.65},{"t":198.3,"v":1.6},{"t":199,"v":4.2},{"t":199.8,"v":3.4},{"t":200.7,"v":8.3},{"t":201.3,"v":5.4},{"t":201.9,"v":1.0},{"t":202.2,"v":6.9},{"t":202.7,"v":8.65},{"t":203.4,"v":2.6},{"t":204.1,"v":4.7},{"t":204.8,"v":3.7},{"t":205.5,"v":5.7},{"t":206,"v":2.0},{"t":206.8,"v":3.0},{"t":207.5,"v":6.1},{"t":208.2,"v":4.3},{"t":209,"v":2.4},{"t":209.7,"v":8.65},{"t":210.4,"v":6.4},{"t":211.1,"v":3.6},{"t":211.9,"v":1.0},{"t":212.6,"v":4.9},{"t":213.3,"v":2.8},{"t":214,"v":5.6},{"t":214.6,"v":7.5},{"t":215.3,"v":3.3},{"t":216,"v":4.1},{"t":216.4,"v":9.5},{"t":217.2,"v":2.5},{"t":218,"v":5.2},{"t":218.7,"v":1.55},{"t":219.4,"v":3.8},{"t":219.9,"v":7.0},{"t":220.6,"v":4.6},{"t":221.2,"v":2.9},{"t":221.6,"v":0.57},{"t":222.4,"v":6.5},{"t":223.1,"v":0.94},{"t":223.8,"v":3.5},{"t":224.5,"v":5.8},{"t":225.2,"v":2.3},{"t":226,"v":4.8},{"t":226.8,"v":3.2},{"t":227.6,"v":6.4},{"t":228.3,"v":2.6},{"t":229,"v":5.0},{"t":229.8,"v":3.9},{"t":230.5,"v":6.0},{"t":230.9,"v":1.1},{"t":231.3,"v":7.2},{"t":232,"v":2.8},{"t":232.7,"v":4.4},{"t":233.4,"v":3.5},{"t":234.1,"v":5.4},{"t":234.8,"v":2.3},{"t":235.5,"v":3.1},{"t":236.3,"v":7.25},{"t":236.6,"v":9.15},{"t":237.3,"v":4.0},{"t":238,"v":2.7},{"t":238.7,"v":5.2},{"t":239.3,"v":1.9},{"t":239.6,"v":6.7},{"t":240.3,"v":3.6},{"t":241,"v":2.4},{"t":241.6,"v":4.6},{"t":242.2,"v":1.8},{"t":242.8,"v":1.2},{"t":243.4,"v":0.9},{"t":244,"v":2.7},{"t":244.6,"v":0.5},{"t":245.2,"v":1.4},{"t":245.5,"v":0.3},{"t":246,"v":0.8},{"t":246.5,"v":0.2},{"t":247,"v":0.6},{"t":247.5,"v":1.0},{"t":248,"v":0.3},{"t":248.5,"v":0.05},{"t":249.3,"v":3.0},{"t":250,"v":0.4},{"t":251,"v":0.15},{"t":252.2,"v":1.65},{"t":253,"v":0.5},{"t":254,"v":0.05},{"t":255,"v":0.3},{"t":256,"v":1.15},{"t":257,"v":0.2},{"t":258,"v":0.6},{"t":259,"v":0.05},{"t":260,"v":0.35},{"t":261.2,"v":1.1},{"t":262,"v":0.15},{"t":263,"v":0.5},{"t":264.5,"v":0.05},{"t":265,"v":0.3},{"t":266.5,"v":0.7},{"t":268,"v":1.6},{"t":269,"v":0.2},{"t":270,"v":0.45},{"t":271,"v":0.05},{"t":272.4,"v":0.95},{"t":273.5,"v":0.3},{"t":275,"v":0.6},{"t":276,"v":0.05},{"t":277.5,"v":0.25},{"t":279,"v":0.8},{"t":280.5,"v":0.4},{"t":282,"v":0.05},{"t":283,"v":0.55},{"t":284.5,"v":0.2},{"t":286,"v":0.9},{"t":287.5,"v":0.35},{"t":289,"v":0.05},{"t":290,"v":0.6},{"t":291.5,"v":0.25},{"t":293,"v":2.4},{"t":294,"v":0.45},{"t":294.9,"v":1.05},{"t":296,"v":0.15},{"t":297.5,"v":0.7},{"t":299,"v":0.05},{"t":300,"v":0.4},{"t":301.5,"v":0.9},{"t":303,"v":0.2},{"t":304.5,"v":0.55},{"t":306,"v":0.05},{"t":307,"v":0.3},{"t":308.5,"v":0.8},{"t":310,"v":0.15},{"t":310.7,"v":1.1},{"t":312,"v":0.45},{"t":313.5,"v":0.05},{"t":315,"v":0.6},{"t":316,"v":0.25},{"t":317.4,"v":1.55},{"t":318.5,"v":0.35},{"t":320,"v":0.05},{"t":321,"v":0.7},{"t":322.5,"v":0.2},{"t":324,"v":0.5},{"t":325.5,"v":0.05},{"t":327,"v":0.85},{"t":328,"v":0.3},{"t":329.5,"v":0.6},{"t":331,"v":0.05},{"t":332,"v":0.4},{"t":333.5,"v":0.15},{"t":334.7,"v":1.5},{"t":335.5,"v":0.5},{"t":336.6,"v":1.0},{"t":337.5,"v":0.05},{"t":338.5,"v":0.3},{"t":339.5,"v":0.65},{"t":340.5,"v":0.2},{"t":341.4,"v":1.15},{"t":342.2,"v":0.45},{"t":342.9,"v":1.35},{"t":343.6,"v":0.05},{"t":344.4,"v":1.9},{"t":345,"v":0.8},{"t":345.8,"v":2.2},{"t":346.5,"v":1.3},{"t":347.4,"v":3.2},{"t":348,"v":2.5},{"t":348.6,"v":4.0},{"t":349,"v":7.15},{"t":349.6,"v":3.3},{"t":350.5,"v":3.2},{"t":351.2,"v":4.4},{"t":352,"v":3.35},{"t":352.5,"v":5.3},{"t":353,"v":4.75},{"t":353.6,"v":2.9},{"t":354.2,"v":2.3},{"t":355,"v":6.1},{"t":355.7,"v":4.1},{"t":356.5,"v":2.0},{"t":357.2,"v":5.5},{"t":358,"v":5.1},{"t":358.7,"v":5.9},{"t":359.4,"v":3.6},{"t":360.2,"v":5.55},{"t":361,"v":2.8},{"t":361.7,"v":4.5},{"t":362.5,"v":6.25},{"t":363.2,"v":3.3},{"t":364,"v":5.0},{"t":364.7,"v":7.45},{"t":365.4,"v":2.6},{"t":366,"v":4.2},{"t":366.8,"v":6.3},{"t":367.7,"v":8.1},{"t":367.9,"v":1.3},{"t":368.5,"v":3.7},{"t":369.2,"v":1.6},{"t":370,"v":5.4},{"t":370.8,"v":2.9},{"t":371.5,"v":4.5},{"t":372.2,"v":6.0},{"t":373,"v":7.4},{"t":373.7,"v":3.5},{"t":374.5,"v":2.4},{"t":375.2,"v":5.0},{"t":375.7,"v":2.1},{"t":376.5,"v":4.0},{"t":377.3,"v":6.6},{"t":378,"v":3.2},{"t":378.8,"v":4.7},{"t":379,"v":7.1},{"t":379.7,"v":8.3},{"t":380.4,"v":2.7},{"t":381.2,"v":5.6},{"t":382,"v":3.8},{"t":382.8,"v":4.4},{"t":383.5,"v":6.4},{"t":384.2,"v":2.3},{"t":384.7,"v":1.35},{"t":385.5,"v":5.1},{"t":386.5,"v":2.0},{"t":387.2,"v":3.6},{"t":388,"v":6.2},{"t":388.7,"v":0.85},{"t":389.5,"v":8.0},{"t":390.2,"v":4.6},{"t":391,"v":7.7},{"t":391.7,"v":3.1},{"t":392.5,"v":5.3},{"t":393.3,"v":2.5},{"t":394,"v":4.2},{"t":394.8,"v":6.7},{"t":395.5,"v":7.35},{"t":396.2,"v":3.4},{"t":397,"v":5.7},{"t":397.8,"v":2.8},{"t":398.5,"v":4.8},{"t":399.2,"v":3.6},{"t":399.7,"v":8.85},{"t":400,"v":2.2},{"t":400.8,"v":6.1},{"t":401.5,"v":4.0},{"t":402.3,"v":3.0},{"t":403,"v":5.5},{"t":403.8,"v":7.2},{"t":404.5,"v":2.6},{"t":405.3,"v":4.5},{"t":406,"v":6.4},{"t":406.8,"v":3.3},{"t":407.5,"v":5.0},{"t":408.3,"v":2.2},{"t":409,"v":8.85},{"t":409.8,"v":4.2},{"t":410.5,"v":3.4},{"t":411.3,"v":8.3},{"t":412,"v":5.9},{"t":412.8,"v":2.7},{"t":413.5,"v":8.4},{"t":414.3,"v":4.6},{"t":415,"v":3.7},{"t":415.8,"v":6.5},{"t":416.5,"v":2.4},{"t":417.3,"v":5.4},{"t":418,"v":8.4},{"t":418.8,"v":3.2},{"t":419.5,"v":4.9},{"t":420.3,"v":8.1},{"t":421,"v":6.6},{"t":421.7,"v":3.8},{"t":422.2,"v":9.65},{"t":422.9,"v":2.9},{"t":423.3,"v":9.1},{"t":424,"v":5.1},{"t":424.8,"v":4.0},{"t":425.5,"v":6.9},{"t":426.3,"v":3.0},{"t":427,"v":5.7},{"t":427.8,"v":2.3},{"t":428.5,"v":4.4},{"t":429.3,"v":1.7},{"t":430,"v":6.3},{"t":430.8,"v":3.6},{"t":431.5,"v":1.1},{"t":432.3,"v":9.1},{"t":433,"v":5.0},{"t":433.8,"v":3.3},{"t":434.5,"v":7.2},{"t":435.3,"v":4.3},{"t":436,"v":2.6},{"t":436.8,"v":5.8},{"t":437.5,"v":8.9},{"t":438.3,"v":3.9},{"t":439,"v":6.0},{"t":439.8,"v":2.9},{"t":440.2,"v":9.4},{"t":441,"v":4.7},{"t":441.8,"v":3.4},{"t":442.5,"v":6.6},{"t":443.3,"v":2.4},{"t":444,"v":5.4},{"t":444.8,"v":3.8},{"t":445,"v":8.55},{"t":445.6,"v":1.7},{"t":446.5,"v":9.75},{"t":447.2,"v":4.5},{"t":448,"v":6.2},{"t":448.8,"v":1.7},{"t":449.5,"v":3.5},{"t":450.3,"v":8.5},{"t":451,"v":5.3},{"t":451.8,"v":2.8},{"t":452.6,"v":9.5},{"t":453.3,"v":4.1},{"t":453.6,"v":8.8},{"t":454.4,"v":6.8},{"t":455.2,"v":3.2},{"t":456,"v":5.0},{"t":456.7,"v":2.5},{"t":457,"v":1.9},{"t":457.8,"v":1.4},{"t":458.5,"v":7.1},{"t":459.2,"v":4.4},{"t":460,"v":9.4},{"t":460.4,"v":1.4},{"t":461,"v":3.6},{"t":461.6,"v":8.2},{"t":462.3,"v":5.9},{"t":463,"v":9.4},{"t":463.7,"v":2.9},{"t":464.3,"v":9.2},{"t":465,"v":4.8},{"t":465.8,"v":7.7},{"t":466.5,"v":3.3},{"t":467.2,"v":6.5},{"t":468,"v":2.3},{"t":468.7,"v":5.2},{"t":469.4,"v":3.9},{"t":470,"v":6.1},{"t":470.6,"v":1.75},{"t":471.3,"v":8.6},{"t":472,"v":4.3},{"t":472.7,"v":2.6},{"t":473.6,"v":8.45},{"t":474.3,"v":5.5},{"t":475,"v":3.4},{"t":475.8,"v":6.3},{"t":476.6,"v":2.0},{"t":477.3,"v":7.25},{"t":478,"v":5.6},{"t":478.6,"v":3.0},{"t":479.3,"v":1.0},{"t":479.6,"v":1.45},{"t":480.3,"v":0.85},{"t":481,"v":2.3},{"t":481.4,"v":6.0},{"t":482,"v":1.7},{"t":482.6,"v":0.75},{"t":483,"v":3.1},{"t":483.3,"v":0.4},{"t":483.8,"v":1.5},{"t":484.1,"v":0.05},{"t":484.8,"v":0.25},{"t":105.8,"v":4.9},{"t":107.3,"v":5.6},{"t":108.5,"v":3.3},{"t":109.8,"v":4.7},{"t":111.3,"v":6.3},{"t":112.8,"v":3.9},{"t":114.3,"v":5.3},{"t":116,"v":4.2},{"t":117.8,"v":5.1},{"t":119.1,"v":3.5},{"t":120.6,"v":6.4},{"t":122.2,"v":4.0},{"t":124,"v":5.9},{"t":125.6,"v":3.2},{"t":127.1,"v":4.4},{"t":128.7,"v":6.1},{"t":130.2,"v":3.9},{"t":132.1,"v":4.9},{"t":133.6,"v":2.8},{"t":135.4,"v":4.6},{"t":137.6,"v":5.8},{"t":139.2,"v":3.0},{"t":141.4,"v":4.9},{"t":143.7,"v":3.6},{"t":145.6,"v":5.1},{"t":147.3,"v":2.4},{"t":149.6,"v":4.1},{"t":151.8,"v":5.0},{"t":154.6,"v":3.7},{"t":156.2,"v":5.6},{"t":158.9,"v":4.6},{"t":161.6,"v":2.6},{"t":163.7,"v":3.8},{"t":166.6,"v":5.8},{"t":169.4,"v":4.4},{"t":172,"v":3.6},{"t":175,"v":4.9},{"t":177.9,"v":3.3},{"t":180.2,"v":4.1},{"t":182.8,"v":6.1},{"t":185.7,"v":2.9},{"t":188.7,"v":3.4},{"t":191.6,"v":5.3},{"t":194.6,"v":3.8},{"t":197.5,"v":4.6},{"t":200.3,"v":2.9},{"t":203.7,"v":5.1},{"t":206.4,"v":4.0},{"t":209.3,"v":5.1},{"t":212.2,"v":3.2},{"t":215.6,"v":4.5},{"t":218.4,"v":3.0},{"t":221.6,"v":5.4},{"t":224.9,"v":4.1},{"t":227.9,"v":2.9},{"t":231.6,"v":3.9},{"t":234.5,"v":4.8},{"t":237.7,"v":3.4},{"t":240.6,"v":4.2},{"t":252.6,"v":0.15},{"t":258.6,"v":0.3},{"t":266,"v":0.1},{"t":274.3,"v":0.2},{"t":281,"v":0.15},{"t":288.4,"v":0.25},{"t":296.6,"v":0.1},{"t":305,"v":0.3},{"t":314,"v":0.2},{"t":323,"v":0.1},{"t":330,"v":0.25},{"t":339,"v":0.15},{"t":354.6,"v":3.9},{"t":357.8,"v":4.3},{"t":360.8,"v":3.4},{"t":363.8,"v":4.6},{"t":366.4,"v":3.0},{"t":369.6,"v":5.6},{"t":372.6,"v":3.9},{"t":375.9,"v":4.4},{"t":379.4,"v":3.6},{"t":382.4,"v":5.3},{"t":385.9,"v":4.1},{"t":389.1,"v":3.3},{"t":392.1,"v":4.9},{"t":395.2,"v":2.9},{"t":398.1,"v":5.5},{"t":401.1,"v":3.4},{"t":404.2,"v":4.9},{"t":407.1,"v":3.9},{"t":410.1,"v":6.2},{"t":413.1,"v":4.2},{"t":416.1,"v":3.1},{"t":419.1,"v":5.9},{"t":422.6,"v":4.5},{"t":425.9,"v":3.5},{"t":429,"v":5.4},{"t":432.6,"v":4.1},{"t":435.6,"v":6.0},{"t":438.6,"v":4.6},{"t":441.5,"v":2.9},{"t":444.5,"v":4.5},{"t":447.6,"v":3.9},{"t":450.6,"v":6.1},{"t":454,"v":4.6},{"t":457.3,"v":3.8},{"t":460.6,"v":5.1},{"t":463.3,"v":4.3},{"t":466.1,"v":5.7},{"t":469,"v":4.4},{"t":471.6,"v":3.9},{"t":474.6,"v":4.8},{"t":477.6,"v":3.9},{"t":480.6,"v":2.7}],
"g2":[{"t":104.9,"v":8.8},{"t":105.3,"v":4.6},{"t":105.8,"v":3.2},{"t":106.4,"v":6.3},{"t":107,"v":2.4},{"t":107.2,"v":8.6},{"t":107.8,"v":5.1},{"t":108.4,"v":3.8},{"t":109.1,"v":1.1},{"t":109.7,"v":6.8},{"t":110.3,"v":4.2},{"t":110.6,"v":9.4},{"t":111.2,"v":2.9},{"t":111.9,"v":5.6},{"t":112.5,"v":3.5},{"t":113.1,"v":7.2},{"t":113.8,"v":4.4},{"t":114.4,"v":2.2},{"t":115,"v":5.9},{"t":115.7,"v":3.1},{"t":116,"v":8.35},{"t":116.6,"v":4.8},{"t":117.3,"v":6.5},{"t":117.9,"v":2.7},{"t":118.6,"v":3.9},{"t":119.3,"v":1.0},{"t":119.7,"v":7.6},{"t":120.3,"v":5.3},{"t":121,"v":3.3},{"t":121.2,"v":7.2},{"t":121.8,"v":4.5},{"t":122.5,"v":2.5},{"t":123.2,"v":6.1},{"t":123.9,"v":3.7},{"t":124.5,"v":5.0},{"t":125,"v":8.3},{"t":125.6,"v":2.1},{"t":126.3,"v":4.3},{"t":126.9,"v":1.3},{"t":127.5,"v":6.7},{"t":128.2,"v":3.5},{"t":128.9,"v":5.4},{"t":129.6,"v":2.8},{"t":130.3,"v":4.0},{"t":131,"v":1.0},{"t":131.6,"v":6.2},{"t":132.3,"v":3.0},{"t":133,"v":4.9},{"t":133.7,"v":7.7},{"t":134.3,"v":2.4},{"t":135,"v":5.7},{"t":135.7,"v":3.6},{"t":136.3,"v":8.75},{"t":137,"v":4.4},{"t":137.7,"v":2.6},{"t":138.4,"v":6.0},{"t":139.1,"v":3.2},{"t":139.7,"v":5.1},{"t":140.1,"v":1.4},{"t":140.8,"v":3.9},{"t":141.5,"v":6.9},{"t":142.2,"v":2.9},{"t":142.9,"v":4.7},{"t":143.6,"v":3.4},{"t":144.3,"v":5.8},{"t":144.6,"v":8.5},{"t":145.3,"v":2.3},{"t":146,"v":4.1},{"t":146.7,"v":6.4},{"t":147.4,"v":3.0},{"t":148.1,"v":5.2},{"t":148.8,"v":2.6},{"t":149.5,"v":4.5},{"t":150.2,"v":3.6},{"t":150.7,"v":9.6},{"t":151.4,"v":6.1},{"t":152.1,"v":2.8},{"t":152.8,"v":4.8},{"t":153.5,"v":3.3},{"t":154.2,"v":5.5},{"t":154.9,"v":2.0},{"t":155.9,"v":4.0},{"t":156.6,"v":6.7},{"t":157.3,"v":3.1},{"t":158,"v":4.6},{"t":158.7,"v":2.5},{"t":159,"v":1.45},{"t":159.7,"v":5.3},{"t":160.4,"v":3.7},{"t":160.9,"v":9.6},{"t":161.6,"v":4.4},{"t":162.3,"v":2.7},{"t":163,"v":6.0},{"t":163.7,"v":3.4},{"t":164.4,"v":5.0},{"t":165.1,"v":2.2},{"t":165.8,"v":4.2},{"t":166.6,"v":8.9},{"t":167.3,"v":3.0},{"t":168,"v":5.6},{"t":168.7,"v":3.9},{"t":169.4,"v":2.4},{"t":170.1,"v":4.7},{"t":170.4,"v":1.65},{"t":171.1,"v":6.3},{"t":171.8,"v":3.2},{"t":172.5,"v":4.4},{"t":173.2,"v":2.8},{"t":173.9,"v":5.4},{"t":174.6,"v":3.6},{"t":175.3,"v":7.0},{"t":176,"v":9.7},{"t":176.7,"v":2.3},{"t":177.4,"v":4.1},{"t":178.1,"v":5.8},{"t":178.8,"v":3.0},{"t":179.5,"v":4.6},{"t":180.2,"v":7.95},{"t":180.9,"v":2.6},{"t":181.7,"v":1.0},{"t":182.4,"v":3.8},{"t":183.1,"v":5.2},{"t":183.8,"v":2.9},{"t":184.5,"v":4.3},{"t":185.2,"v":6.5},{"t":185.9,"v":3.4},{"t":186.3,"v":9.4},{"t":187,"v":2.1},{"t":187.7,"v":4.8},{"t":188.4,"v":3.1},{"t":189.1,"v":5.7},{"t":189.8,"v":2.5},{"t":190.5,"v":4.0},{"t":191.2,"v":6.1},{"t":191.9,"v":3.3},{"t":192.6,"v":2.0},{"t":193.3,"v":4.5},{"t":194,"v":3.6},{"t":194.7,"v":5.3},{"t":195,"v":0.9},{"t":195.7,"v":2.7},{"t":196.4,"v":4.2},{"t":197.1,"v":6.6},{"t":197.8,"v":3.0},{"t":198.5,"v":4.9},{"t":199.2,"v":2.3},{"t":199.9,"v":7.9},{"t":200.6,"v":3.7},{"t":201.3,"v":5.5},{"t":202,"v":2.8},{"t":202.7,"v":4.1},{"t":203.4,"v":6.0},{"t":204.1,"v":3.2},{"t":204.4,"v":1.4},{"t":204.8,"v":9.9},{"t":205.5,"v":4.6},{"t":206.2,"v":2.5},{"t":206.9,"v":3.9},{"t":207.6,"v":5.1},{"t":208.2,"v":8.75},{"t":208.9,"v":3.0},{"t":209.6,"v":4.4},{"t":210.3,"v":2.2},{"t":211,"v":5.8},{"t":211.7,"v":3.5},{"t":212.4,"v":4.7},{"t":213.1,"v":2.7},{"t":213.8,"v":6.4},{"t":214.5,"v":3.3},{"t":215.2,"v":4.0},{"t":215.9,"v":2.0},{"t":216.5,"v":9.4},{"t":217.2,"v":5.2},{"t":217.6,"v":1.2},{"t":218.3,"v":3.6},{"t":219,"v":4.8},{"t":219.7,"v":2.6},{"t":220.4,"v":6.2},{"t":221.1,"v":8.4},{"t":221.8,"v":3.1},{"t":222.5,"v":4.3},{"t":223.2,"v":2.4},{"t":223.9,"v":5.5},{"t":224.6,"v":3.8},{"t":225.3,"v":6.9},{"t":226,"v":2.9},{"t":226.7,"v":4.5},{"t":227.1,"v":0.95},{"t":227.8,"v":3.4},{"t":228.5,"v":5.0},{"t":229.2,"v":2.2},{"t":229.9,"v":4.1},{"t":230.1,"v":9.9},{"t":230.8,"v":6.0},{"t":231.5,"v":3.0},{"t":232.2,"v":4.7},{"t":232.9,"v":2.7},{"t":233.5,"v":1.0},{"t":234.2,"v":5.4},{"t":234.9,"v":3.5},{"t":235.6,"v":4.2},{"t":236.3,"v":2.4},{"t":237,"v":8.95},{"t":237.6,"v":3.2},{"t":238.3,"v":5.9},{"t":239,"v":2.8},{"t":239.2,"v":8.35},{"t":239.8,"v":4.0},{"t":240.4,"v":2.1},{"t":241,"v":3.4},{"t":241.6,"v":1.6},{"t":242.2,"v":2.6},{"t":242.8,"v":1.1},{"t":243.4,"v":0.5},{"t":244,"v":1.9},{"t":244.6,"v":0.2},{"t":245.2,"v":1.2},{"t":245.8,"v":0.05},{"t":246.4,"v":0.7},{"t":247,"v":0.3},{"t":247.6,"v":1.5},{"t":248.2,"v":0.05},{"t":249,"v":0.9},{"t":249.8,"v":0.4},{"t":250.6,"v":0.05},{"t":251.5,"v":0.6},{"t":252.5,"v":0.2},{"t":253.5,"v":1.1},{"t":254.5,"v":0.05},{"t":255.5,"v":0.35},{"t":256.5,"v":0.8},{"t":257.5,"v":0.1},{"t":259,"v":0.5},{"t":260.5,"v":0.05},{"t":262,"v":0.3},{"t":263.5,"v":0.7},{"t":265,"v":0.15},{"t":266.5,"v":0.05},{"t":268,"v":0.45},{"t":269.5,"v":0.9},{"t":271,"v":0.2},{"t":272.5,"v":0.05},{"t":274,"v":0.55},{"t":275.5,"v":0.3},{"t":277,"v":0.05},{"t":278.5,"v":0.4},{"t":280,"v":1.0},{"t":281.5,"v":0.15},{"t":283,"v":0.05},{"t":284.5,"v":0.6},{"t":286,"v":0.3},{"t":287.5,"v":0.05},{"t":289,"v":0.75},{"t":290.5,"v":0.2},{"t":292,"v":0.45},{"t":293.5,"v":0.05},{"t":295,"v":0.35},{"t":296.5,"v":0.8},{"t":298,"v":0.1},{"t":299.5,"v":0.05},{"t":301,"v":0.5},{"t":302.5,"v":2.7},{"t":304,"v":0.25},{"t":305.5,"v":0.05},{"t":307,"v":0.65},{"t":308.5,"v":0.2},{"t":310,"v":0.05},{"t":311.5,"v":0.4},{"t":313,"v":0.9},{"t":314.5,"v":0.15},{"t":316,"v":0.05},{"t":317.5,"v":0.55},{"t":319,"v":0.3},{"t":320.5,"v":0.05},{"t":322,"v":0.7},{"t":323.5,"v":0.2},{"t":325,"v":0.45},{"t":326.5,"v":0.05},{"t":328,"v":1.1},{"t":329.5,"v":0.3},{"t":331,"v":0.05},{"t":332.5,"v":0.6},{"t":334,"v":0.2},{"t":335.5,"v":0.05},{"t":337,"v":0.5},{"t":338.5,"v":0.85},{"t":340,"v":0.1},{"t":341.5,"v":0.35},{"t":342.5,"v":0.05},{"t":343.5,"v":1.3},{"t":344.5,"v":0.6},{"t":345.5,"v":2.0},{"t":346.5,"v":1.2},{"t":347.3,"v":2.9},{"t":348,"v":3.5},{"t":348.7,"v":2.2},{"t":349.4,"v":4.4},{"t":350.1,"v":3.1},{"t":350.4,"v":7.2},{"t":351,"v":5.0},{"t":351.7,"v":2.5},{"t":352.3,"v":3.9},{"t":353,"v":5.9},{"t":353.8,"v":7.8},{"t":354.5,"v":2.8},{"t":355.2,"v":4.6},{"t":355.9,"v":3.4},{"t":356.6,"v":6.2},{"t":357.3,"v":2.1},{"t":358,"v":8.7},{"t":358.6,"v":4.1},{"t":359.5,"v":0.65},{"t":360.1,"v":5.4},{"t":360.8,"v":3.0},{"t":361.5,"v":6.7},{"t":362.2,"v":2.6},{"t":362.5,"v":8.75},{"t":363.2,"v":4.3},{"t":363.9,"v":3.5},{"t":364.2,"v":1.9},{"t":364.9,"v":5.7},{"t":365.6,"v":2.8},{"t":366.3,"v":4.5},{"t":367.1,"v":9.05},{"t":367.8,"v":3.2},{"t":368.5,"v":6.0},{"t":369.2,"v":2.4},{"t":369.9,"v":4.8},{"t":370.8,"v":8.4},{"t":370.9,"v":1.3},{"t":371.6,"v":3.7},{"t":372.3,"v":5.3},{"t":373,"v":2.7},{"t":373.7,"v":4.2},{"t":374.4,"v":6.5},{"t":375.1,"v":3.1},{"t":375.8,"v":5.0},{"t":376.5,"v":2.2},{"t":377.3,"v":9.4},{"t":378,"v":4.0},{"t":378.4,"v":1.3},{"t":379.1,"v":6.3},{"t":379.8,"v":3.4},{"t":380.5,"v":4.9},{"t":381.2,"v":2.6},{"t":381.9,"v":5.8},{"t":382.2,"v":9.2},{"t":382.9,"v":3.8},{"t":383.6,"v":4.5},{"t":384.3,"v":2.9},{"t":385,"v":7.0},{"t":385.7,"v":3.3},{"t":386.4,"v":5.2},{"t":387.1,"v":8.3},{"t":387.8,"v":0.95},{"t":388.5,"v":4.3},{"t":389.2,"v":2.5},{"t":389.9,"v":6.1},{"t":390.5,"v":8.0},{"t":391.2,"v":3.6},{"t":391.9,"v":4.8},{"t":392.6,"v":2.8},{"t":393.3,"v":5.5},{"t":394,"v":3.2},{"t":394.7,"v":4.1},{"t":395.4,"v":9.0},{"t":396.1,"v":6.8},{"t":396.8,"v":2.3},{"t":397.3,"v":1.5},{"t":398,"v":3.9},{"t":398.7,"v":5.3},{"t":399.2,"v":9.9},{"t":399.9,"v":3.0},{"t":400.6,"v":4.6},{"t":401.3,"v":2.7},{"t":402,"v":6.4},{"t":402.7,"v":3.5},{"t":403,"v":8.6},{"t":403.7,"v":4.2},{"t":404.4,"v":5.6},{"t":405.1,"v":2.4},{"t":405.8,"v":3.8},{"t":406.5,"v":6.0},{"t":406.7,"v":1.1},{"t":407.4,"v":4.9},{"t":407.9,"v":9.4},{"t":408.6,"v":3.1},{"t":409.3,"v":5.4},{"t":410,"v":2.6},{"t":410.7,"v":4.4},{"t":411.4,"v":7.3},{"t":412.1,"v":3.3},{"t":412.8,"v":5.0},{"t":413.2,"v":9.95},{"t":413.9,"v":2.9},{"t":414.6,"v":4.7},{"t":415.3,"v":3.6},{"t":416,"v":6.2},{"t":416.7,"v":2.2},{"t":417.4,"v":4.1},{"t":418.1,"v":9.05},{"t":418.3,"v":1.65},{"t":418.8,"v":5.7},{"t":419.5,"v":3.0},{"t":420.2,"v":4.5},{"t":420.9,"v":6.9},{"t":421.6,"v":2.7},{"t":422.3,"v":3.9},{"t":423,"v":5.2},{"t":423.8,"v":8.3},{"t":424.5,"v":3.4},{"t":425.2,"v":4.8},{"t":425.9,"v":2.5},{"t":426.6,"v":6.6},{"t":426.8,"v":1.9},{"t":427.5,"v":3.7},{"t":428.2,"v":5.5},{"t":428.9,"v":2.9},{"t":429.6,"v":4.3},{"t":430.6,"v":8.75},{"t":431.3,"v":3.2},{"t":432,"v":6.0},{"t":432.7,"v":2.4},{"t":433.4,"v":4.6},{"t":434.1,"v":3.5},{"t":434.8,"v":5.8},{"t":435.1,"v":8.6},{"t":435.8,"v":2.8},{"t":436.5,"v":4.1},{"t":437.2,"v":6.4},{"t":437.9,"v":3.3},{"t":438.6,"v":5.1},{"t":438.9,"v":1.6},{"t":439.6,"v":2.6},{"t":440.3,"v":4.7},{"t":440.8,"v":9.05},{"t":441.5,"v":3.8},{"t":442.2,"v":5.6},{"t":442.9,"v":2.2},{"t":443.6,"v":4.4},{"t":444.3,"v":7.1},{"t":445,"v":3.0},{"t":445.7,"v":5.3},{"t":446.5,"v":9.4},{"t":447.2,"v":2.7},{"t":447.9,"v":4.0},{"t":448.4,"v":1.9},{"t":449.1,"v":5.9},{"t":449.8,"v":3.4},{"t":450.5,"v":4.6},{"t":451.2,"v":2.5},{"t":451.9,"v":6.7},{"t":452.6,"v":3.9},{"t":453.3,"v":8.6},{"t":454,"v":5.0},{"t":454.7,"v":2.8},{"t":455.4,"v":4.3},{"t":456.1,"v":3.1},{"t":456.8,"v":6.1},{"t":457.5,"v":3.7},{"t":457.8,"v":1.5},{"t":458.6,"v":8.45},{"t":459.3,"v":4.9},{"t":460,"v":2.4},{"t":460.7,"v":5.5},{"t":461.4,"v":3.3},{"t":462.1,"v":4.4},{"t":462.8,"v":6.3},{"t":463.5,"v":2.7},{"t":464.2,"v":3.9},{"t":464.9,"v":5.2},{"t":465.4,"v":8.75},{"t":466.1,"v":3.0},{"t":466.8,"v":4.6},{"t":467.5,"v":7.4},{"t":468.2,"v":2.5},{"t":468.4,"v":1.9},{"t":469.2,"v":9.85},{"t":469.9,"v":5.0},{"t":470.6,"v":3.6},{"t":471.3,"v":6.8},{"t":472,"v":4.3},{"t":472.9,"v":9.05},{"t":473.5,"v":2.9},{"t":474.1,"v":4.9},{"t":474.7,"v":3.3},{"t":475.3,"v":2.0},{"t":475.9,"v":5.6},{"t":476.5,"v":2.6},{"t":477.1,"v":3.9},{"t":477.7,"v":1.4},{"t":478.3,"v":3.0},{"t":478.9,"v":0.8},{"t":479.5,"v":2.2},{"t":480.1,"v":0.5},{"t":480.7,"v":1.6},{"t":481.3,"v":0.3},{"t":481.9,"v":1.1},{"t":482.5,"v":0.2},{"t":483.1,"v":0.7},{"t":483.7,"v":0.05},{"t":484.3,"v":0.4},{"t":105.5,"v":5.4},{"t":106.9,"v":3.6},{"t":108.8,"v":5.9},{"t":110,"v":4.6},{"t":111.6,"v":3.9},{"t":113.4,"v":5.5},{"t":115.3,"v":4.2},{"t":117,"v":3.3},{"t":118.2,"v":5.6},{"t":120.6,"v":4.7},{"t":122.2,"v":3.4},{"t":124.2,"v":4.8},{"t":125.9,"v":5.6},{"t":127.8,"v":4.1},{"t":129.9,"v":3.7},{"t":131.9,"v":5.3},{"t":133.4,"v":4.2},{"t":135.3,"v":3.0},{"t":137.3,"v":5.4},{"t":139.4,"v":4.1},{"t":141.1,"v":5.5},{"t":143.2,"v":3.8},{"t":145.6,"v":4.9},{"t":147.7,"v":3.5},{"t":150,"v":5.4},{"t":152.4,"v":4.0},{"t":155.5,"v":5.3},{"t":157.6,"v":3.9},{"t":160.1,"v":4.6},{"t":162.7,"v":3.3},{"t":165.5,"v":4.9},{"t":168.3,"v":4.3},{"t":171.4,"v":3.5},{"t":174.3,"v":4.7},{"t":177,"v":3.7},{"t":179.9,"v":5.0},{"t":182.7,"v":4.1},{"t":185.6,"v":3.0},{"t":188.1,"v":4.3},{"t":190.8,"v":3.6},{"t":193.6,"v":4.9},{"t":196.1,"v":3.3},{"t":198.9,"v":4.1},{"t":201.7,"v":3.2},{"t":204.6,"v":5.2},{"t":207.3,"v":3.6},{"t":210.6,"v":4.4},{"t":213.4,"v":3.1},{"t":216.2,"v":4.6},{"t":219.4,"v":3.9},{"t":222.2,"v":4.9},{"t":225,"v":3.1},{"t":228.1,"v":4.3},{"t":231.1,"v":3.8},{"t":234.5,"v":3.0},{"t":237.2,"v":4.4},{"t":240.1,"v":3.7},{"t":253,"v":0.2},{"t":261,"v":0.1},{"t":267.2,"v":0.25},{"t":276.2,"v":0.1},{"t":282.2,"v":0.3},{"t":291,"v":0.1},{"t":297.2,"v":0.2},{"t":306.2,"v":0.1},{"t":312.2,"v":0.3},{"t":321.2,"v":0.15},{"t":330,"v":0.2},{"t":339.2,"v":0.1},{"t":353.4,"v":4.2},{"t":356.2,"v":3.8},{"t":359,"v":5.1},{"t":361.8,"v":4.1},{"t":364.6,"v":4.9},{"t":367.5,"v":3.8},{"t":370.3,"v":5.5},{"t":373.3,"v":4.6},{"t":376.1,"v":3.7},{"t":379.4,"v":5.2},{"t":382.6,"v":4.3},{"t":385.3,"v":3.6},{"t":388.2,"v":5.0},{"t":391.5,"v":4.1},{"t":394.4,"v":3.5},{"t":397.6,"v":4.7},{"t":400.9,"v":5.6},{"t":404,"v":3.9},{"t":406.9,"v":4.4},{"t":410.4,"v":5.9},{"t":413.5,"v":4.0},{"t":416.3,"v":3.4},{"t":419.2,"v":5.0},{"t":422,"v":4.3},{"t":425,"v":5.9},{"t":428,"v":3.9},{"t":431.7,"v":4.8},{"t":434.4,"v":4.3},{"t":437.6,"v":3.7},{"t":440.6,"v":5.4},{"t":443.9,"v":4.0},{"t":447,"v":5.8},{"t":450.1,"v":4.2},{"t":453.6,"v":3.6},{"t":456.4,"v":5.0},{"t":459.6,"v":4.1},{"t":462.5,"v":5.6},{"t":465.6,"v":3.6},{"t":468.7,"v":4.5},{"t":471.6,"v":3.9},{"t":474.4,"v":4.3},{"t":477.4,"v":2.4},{"t":480.4,"v":1.9}],
"g3":[{"t":94.1,"v":1.05},{"t":94.4,"v":3.3},{"t":94.7,"v":0.25},{"t":95,"v":3.5},{"t":95.4,"v":1.9},{"t":95.7,"v":2.25},{"t":96,"v":3.9},{"t":96.4,"v":5.35},{"t":97,"v":1.8},{"t":97.4,"v":3.2},{"t":97.7,"v":1.6},{"t":98.3,"v":2.9},{"t":98.7,"v":4.1},{"t":99.1,"v":2.65},{"t":99.7,"v":1.8},{"t":100.2,"v":3.6},{"t":100.7,"v":7.8},{"t":101.1,"v":5.25},{"t":101.5,"v":2.7},{"t":102,"v":7.15},{"t":102.6,"v":4.5},{"t":103.2,"v":3.3},{"t":103.8,"v":5.9},{"t":104.4,"v":2.4},{"t":105,"v":4.7},{"t":105.5,"v":7.75},{"t":106.1,"v":3.0},{"t":106.7,"v":5.5},{"t":107.3,"v":3.8},{"t":108,"v":2.15},{"t":108.6,"v":6.0},{"t":109.2,"v":4.2},{"t":109.6,"v":8.55},{"t":110.2,"v":2.9},{"t":110.5,"v":7.9},{"t":111.1,"v":5.0},{"t":111.5,"v":0.85},{"t":112.1,"v":3.5},{"t":112.7,"v":6.4},{"t":113.3,"v":2.6},{"t":113.9,"v":4.6},{"t":114.5,"v":3.2},{"t":115.1,"v":5.8},{"t":115.7,"v":2.2},{"t":116.3,"v":4.0},{"t":116.9,"v":8.0},{"t":117.1,"v":1.2},{"t":117.5,"v":6.1},{"t":117.9,"v":8.75},{"t":118.5,"v":3.4},{"t":119.1,"v":5.2},{"t":119.7,"v":2.8},{"t":120.3,"v":4.4},{"t":120.6,"v":9.85},{"t":121.2,"v":3.0},{"t":121.8,"v":6.6},{"t":122.3,"v":2.0},{"t":122.9,"v":7.4},{"t":123.5,"v":4.8},{"t":124.1,"v":3.6},{"t":124.7,"v":1.25},{"t":125.3,"v":5.5},{"t":125.9,"v":2.9},{"t":126.5,"v":4.1},{"t":126.7,"v":8.1},{"t":127.3,"v":6.3},{"t":127.9,"v":3.3},{"t":128.1,"v":1.9},{"t":128.7,"v":4.7},{"t":129.3,"v":2.5},{"t":129.9,"v":5.9},{"t":130.4,"v":9.5},{"t":131,"v":3.8},{"t":131.6,"v":2.2},{"t":132.2,"v":4.5},{"t":132.8,"v":6.8},{"t":133.4,"v":3.1},{"t":133.7,"v":1.5},{"t":134.3,"v":5.1},{"t":134.9,"v":2.7},{"t":135.5,"v":8.95},{"t":136.1,"v":4.2},{"t":136.7,"v":3.5},{"t":137.3,"v":6.0},{"t":137.9,"v":2.3},{"t":138.5,"v":4.9},{"t":139.1,"v":3.2},{"t":139.7,"v":5.6},{"t":140.3,"v":2.6},{"t":140.9,"v":4.3},{"t":141.6,"v":7.35},{"t":142.2,"v":3.7},{"t":142.8,"v":5.3},{"t":143.4,"v":2.9},{"t":143.6,"v":8.55},{"t":143.8,"v":1.1},{"t":144.2,"v":4.1},{"t":144.8,"v":6.2},{"t":145.4,"v":3.3},{"t":146,"v":2.1},{"t":146.6,"v":5.0},{"t":147,"v":9.4},{"t":147.6,"v":3.6},{"t":148,"v":8.0},{"t":148.6,"v":4.6},{"t":149.2,"v":2.7},{"t":149.8,"v":5.8},{"t":150.1,"v":1.5},{"t":150.7,"v":3.9},{"t":151.3,"v":6.5},{"t":151.9,"v":3.0},{"t":152.5,"v":4.8},{"t":153.1,"v":2.4},{"t":153.7,"v":9.4},{"t":153.9,"v":8.95},{"t":154.3,"v":3.5},{"t":154.9,"v":5.4},{"t":155.5,"v":2.8},{"t":156.1,"v":4.4},{"t":156.7,"v":3.1},{"t":157.3,"v":6.1},{"t":157.8,"v":7.25},{"t":158.4,"v":3.7},{"t":159,"v":2.5},{"t":159.8,"v":9.2},{"t":160,"v":1.4},{"t":160.4,"v":4.9},{"t":161.1,"v":1.8},{"t":161.7,"v":3.4},{"t":162.3,"v":5.7},{"t":162.9,"v":2.9},{"t":163.5,"v":4.5},{"t":163.8,"v":7.0},{"t":164.4,"v":3.2},{"t":164.9,"v":9.15},{"t":165.5,"v":5.2},{"t":166.1,"v":2.3},{"t":166.7,"v":4.0},{"t":167.3,"v":3.6},{"t":167.9,"v":8.6},{"t":168.1,"v":1.0},{"t":168.5,"v":5.5},{"t":169,"v":9.6},{"t":169.6,"v":2.7},{"t":170.2,"v":4.3},{"t":170.6,"v":6.85},{"t":171.2,"v":3.3},{"t":171.8,"v":5.0},{"t":172.4,"v":2.5},{"t":173,"v":3.9},{"t":173.7,"v":7.65},{"t":174.3,"v":4.6},{"t":174.9,"v":2.9},{"t":175.5,"v":5.7},{"t":176.1,"v":3.4},{"t":176.7,"v":2.1},{"t":177.3,"v":4.8},{"t":177.6,"v":1.25},{"t":178.2,"v":3.6},{"t":178.7,"v":8.45},{"t":179.3,"v":5.3},{"t":179.9,"v":2.7},{"t":180.5,"v":4.1},{"t":181.1,"v":3.1},{"t":181.8,"v":7.15},{"t":182.4,"v":4.5},{"t":183,"v":2.4},{"t":183.6,"v":5.9},{"t":184.2,"v":3.3},{"t":184.8,"v":4.2},{"t":185.4,"v":2.8},{"t":186,"v":5.0},{"t":186.8,"v":0.73},{"t":187.4,"v":3.7},{"t":188,"v":6.3},{"t":188.6,"v":2.5},{"t":189.2,"v":4.4},{"t":189.8,"v":3.0},{"t":190.1,"v":0.3},{"t":190.6,"v":9.8},{"t":191.2,"v":5.4},{"t":191.8,"v":2.9},{"t":192.4,"v":3.9},{"t":193,"v":5.1},{"t":193.5,"v":0.63},{"t":194.1,"v":3.4},{"t":194.7,"v":4.6},{"t":195.5,"v":7.45},{"t":196.1,"v":2.6},{"t":196.7,"v":4.0},{"t":197.3,"v":5.6},{"t":197.8,"v":8.5},{"t":198.4,"v":3.1},{"t":199,"v":4.5},{"t":199.6,"v":2.3},{"t":200.2,"v":3.7},{"t":200.7,"v":6.65},{"t":201,"v":7.8},{"t":201.6,"v":2.9},{"t":202.2,"v":4.8},{"t":202.8,"v":3.5},{"t":203.4,"v":5.9},{"t":204,"v":0.83},{"t":204.6,"v":2.7},{"t":205.2,"v":4.3},{"t":205.8,"v":3.3},{"t":206.4,"v":5.4},{"t":207,"v":2.4},{"t":207.7,"v":8.55},{"t":208.3,"v":4.0},{"t":208.9,"v":3.0},{"t":209.5,"v":6.1},{"t":210.1,"v":2.6},{"t":210.7,"v":4.7},{"t":211.1,"v":1.25},{"t":211.7,"v":3.6},{"t":212.3,"v":5.2},{"t":212.7,"v":9.05},{"t":213.3,"v":2.8},{"t":213.9,"v":4.1},{"t":214.5,"v":3.4},{"t":215.1,"v":6.4},{"t":215.7,"v":2.2},{"t":216.3,"v":4.6},{"t":216.9,"v":3.1},{"t":217.5,"v":5.5},{"t":218.1,"v":2.7},{"t":218.7,"v":3.9},{"t":219.3,"v":4.8},{"t":219.9,"v":2.3},{"t":220.5,"v":6.2},{"t":221.1,"v":3.6},{"t":221.9,"v":8.65},{"t":222.1,"v":0.47},{"t":222.5,"v":4.3},{"t":223.1,"v":2.9},{"t":223.7,"v":5.0},{"t":224.3,"v":3.3},{"t":224.8,"v":0.34},{"t":225,"v":6.45},{"t":225.6,"v":4.0},{"t":226.2,"v":2.5},{"t":226.8,"v":5.6},{"t":227,"v":9.2},{"t":227.6,"v":3.2},{"t":228.2,"v":4.4},{"t":228.8,"v":2.0},{"t":229.4,"v":5.2},{"t":230,"v":6.75},{"t":230.6,"v":3.5},{"t":231.2,"v":2.8},{"t":231.6,"v":0.52},{"t":232.4,"v":8.65},{"t":233,"v":4.7},{"t":233.6,"v":3.0},{"t":234.2,"v":5.7},{"t":234.8,"v":2.3},{"t":235.4,"v":4.1},{"t":236,"v":3.4},{"t":236.6,"v":4.9},{"t":237.4,"v":1.0},{"t":238,"v":2.6},{"t":238.6,"v":5.4},{"t":239.2,"v":3.3},{"t":239.8,"v":1.7},{"t":240.4,"v":4.5},{"t":241,"v":2.2},{"t":241.6,"v":3.0},{"t":242.2,"v":1.5},{"t":242.8,"v":8.6},{"t":243,"v":0.3},{"t":243.4,"v":1.9},{"t":244,"v":0.8},{"t":244.6,"v":2.8},{"t":245.2,"v":0.4},{"t":245.8,"v":1.3},{"t":246.4,"v":0.05},{"t":247,"v":0.6},{"t":247.6,"v":1.0},{"t":248.2,"v":0.2},{"t":249,"v":0.5},{"t":250,"v":0.05},{"t":251,"v":0.8},{"t":252,"v":0.3},{"t":253,"v":1.4},{"t":254,"v":0.05},{"t":255,"v":0.45},{"t":256,"v":0.15},{"t":257.5,"v":0.7},{"t":259,"v":0.05},{"t":260.5,"v":0.35},{"t":262,"v":0.9},{"t":263.5,"v":0.1},{"t":265,"v":0.5},{"t":266.5,"v":0.05},{"t":268,"v":0.3},{"t":269.5,"v":0.65},{"t":271,"v":0.05},{"t":272.5,"v":0.2},{"t":274,"v":0.55},{"t":275.5,"v":0.05},{"t":277,"v":0.4},{"t":278.5,"v":1.2},{"t":280,"v":0.1},{"t":281.5,"v":0.05},{"t":283,"v":0.6},{"t":284.5,"v":0.3},{"t":286,"v":0.05},{"t":287.5,"v":0.75},{"t":289,"v":0.2},{"t":290.5,"v":0.45},{"t":292,"v":0.05},{"t":293.5,"v":0.3},{"t":295,"v":0.85},{"t":296.5,"v":0.1},{"t":298,"v":0.05},{"t":299.5,"v":0.5},{"t":301,"v":0.25},{"t":302.5,"v":0.05},{"t":304,"v":0.65},{"t":305.5,"v":0.2},{"t":307,"v":1.0},{"t":308.5,"v":0.05},{"t":310,"v":0.4},{"t":311.5,"v":0.15},{"t":313,"v":0.6},{"t":314.5,"v":0.05},{"t":316,"v":0.3},{"t":317.5,"v":0.8},{"t":319,"v":0.05},{"t":320.5,"v":0.45},{"t":322,"v":0.2},{"t":323.5,"v":0.05},{"t":325,"v":0.55},{"t":326.5,"v":1.3},{"t":328,"v":0.1},{"t":329.6,"v":4.0},{"t":331,"v":0.05},{"t":332.5,"v":0.35},{"t":334,"v":0.7},{"t":335.5,"v":0.05},{"t":337,"v":0.25},{"t":338.5,"v":0.9},{"t":340,"v":0.05},{"t":341.5,"v":0.5},{"t":342.5,"v":1.1},{"t":343.5,"v":0.2},{"t":344.5,"v":1.6},{"t":345.5,"v":0.8},{"t":346.3,"v":2.3},{"t":347,"v":1.4},{"t":347.8,"v":3.1},{"t":348.5,"v":2.2},{"t":349.2,"v":4.2},{"t":350,"v":2.8},{"t":350.7,"v":5.3},{"t":351.4,"v":3.5},{"t":352.1,"v":2.0},{"t":352.8,"v":4.6},{"t":353.5,"v":6.2},{"t":354.2,"v":2.9},{"t":354.9,"v":3.8},{"t":355.6,"v":5.1},{"t":356.3,"v":2.4},{"t":357,"v":4.3},{"t":357.7,"v":7.0},{"t":358.4,"v":3.2},{"t":359.1,"v":4.9},{"t":359.5,"v":1.55},{"t":360.2,"v":5.8},{"t":360.9,"v":2.7},{"t":361.6,"v":4.0},{"t":362.3,"v":6.5},{"t":363,"v":3.4},{"t":363.7,"v":4.6},{"t":364.4,"v":2.2},{"t":365.1,"v":5.4},{"t":365.8,"v":3.6},{"t":366.5,"v":7.3},{"t":367.2,"v":2.9},{"t":367.9,"v":4.4},{"t":368.6,"v":3.1},{"t":369.3,"v":1.25},{"t":369.7,"v":9.95},{"t":370.4,"v":5.0},{"t":371.1,"v":3.3},{"t":371.8,"v":6.1},{"t":372.5,"v":2.5},{"t":373.2,"v":4.1},{"t":373.9,"v":3.7},{"t":374.6,"v":8.6},{"t":375.3,"v":4.8},{"t":376,"v":2.8},{"t":376.5,"v":2.0},{"t":377.2,"v":5.6},{"t":377.9,"v":3.4},{"t":378.6,"v":4.3},{"t":379.3,"v":6.8},{"t":380,"v":2.6},{"t":380.7,"v":8.2},{"t":381.4,"v":3.9},{"t":382.1,"v":5.1},{"t":382.8,"v":3.0},{"t":383.5,"v":4.5},{"t":384,"v":1.4},{"t":384.7,"v":6.3},{"t":385.4,"v":3.5},{"t":386,"v":9.2},{"t":386.7,"v":2.7},{"t":387.4,"v":4.9},{"t":388.1,"v":3.2},{"t":388.8,"v":5.8},{"t":389.5,"v":4.0},{"t":390.2,"v":2.3},{"t":390.9,"v":6.6},{"t":391.6,"v":3.6},{"t":392,"v":7.9},{"t":392.7,"v":4.7},{"t":393.5,"v":0.78},{"t":394.2,"v":3.0},{"t":394.9,"v":5.3},{"t":395.6,"v":2.5},{"t":396.3,"v":4.2},{"t":397,"v":6.0},{"t":397.7,"v":3.3},{"t":398.4,"v":4.8},{"t":399.2,"v":8.6},{"t":399.4,"v":1.1},{"t":399.9,"v":3.8},{"t":400.6,"v":5.6},{"t":401.3,"v":2.8},{"t":402,"v":4.4},{"t":402.7,"v":6.9},{"t":403.4,"v":3.1},{"t":404.1,"v":5.0},{"t":404.8,"v":2.4},{"t":405.5,"v":3.9},{"t":406.2,"v":6.2},{"t":406.9,"v":3.4},{"t":407.9,"v":8.45},{"t":408.6,"v":1.4},{"t":409.3,"v":4.6},{"t":410,"v":2.9},{"t":410.7,"v":5.5},{"t":411.4,"v":3.7},{"t":412.1,"v":4.3},{"t":412.8,"v":7.2},{"t":413.5,"v":2.6},{"t":414.3,"v":8.6},{"t":415,"v":4.1},{"t":415.7,"v":5.9},{"t":416.2,"v":0.78},{"t":416.9,"v":3.2},{"t":417.6,"v":4.8},{"t":418.3,"v":2.7},{"t":419,"v":6.4},{"t":419.7,"v":3.9},{"t":420,"v":9.55},{"t":420.7,"v":5.2},{"t":421.4,"v":2.3},{"t":422.1,"v":4.5},{"t":422.8,"v":3.4},{"t":423.5,"v":6.7},{"t":424.2,"v":3.0},{"t":424.9,"v":5.4},{"t":425.6,"v":2.5},{"t":426.3,"v":4.2},{"t":426.8,"v":1.7},{"t":427.5,"v":6.0},{"t":428.3,"v":9.9},{"t":429,"v":3.6},{"t":429.7,"v":5.1},{"t":430.4,"v":2.9},{"t":431.1,"v":7.0},{"t":431.8,"v":4.4},{"t":432.5,"v":3.2},{"t":433.2,"v":5.7},{"t":433.9,"v":2.6},{"t":434.6,"v":4.7},{"t":435.1,"v":9.55},{"t":435.3,"v":1.8},{"t":435.8,"v":3.8},{"t":436.5,"v":6.5},{"t":437.2,"v":2.9},{"t":437.9,"v":4.3},{"t":438.6,"v":5.6},{"t":439.3,"v":3.3},{"t":440,"v":7.6},{"t":440.8,"v":8.6},{"t":441.5,"v":2.4},{"t":442.2,"v":4.9},{"t":442.9,"v":3.6},{"t":443.6,"v":6.2},{"t":444.3,"v":4.0},{"t":444.6,"v":9.55},{"t":445.3,"v":2.8},{"t":446,"v":5.3},{"t":446.5,"v":2.0},{"t":447.2,"v":3.4},{"t":447.9,"v":6.8},{"t":448.6,"v":4.5},{"t":449.3,"v":2.6},{"t":450,"v":5.0},{"t":450.3,"v":9.7},{"t":451,"v":3.1},{"t":451.7,"v":4.2},{"t":452.4,"v":7.4},{"t":453.1,"v":2.9},{"t":453.8,"v":5.6},{"t":454.1,"v":1.55},{"t":454.8,"v":3.7},{"t":455.5,"v":4.6},{"t":456,"v":8.45},{"t":456.7,"v":6.1},{"t":457.4,"v":2.5},{"t":458.1,"v":3.9},{"t":458.8,"v":5.2},{"t":459.5,"v":3.0},{"t":460.2,"v":6.6},{"t":460.9,"v":4.3},{"t":461.6,"v":8.9},{"t":461.8,"v":1.1},{"t":462.3,"v":3.5},{"t":463,"v":5.5},{"t":463.7,"v":2.7},{"t":464.4,"v":4.8},{"t":465.1,"v":6.3},{"t":465.4,"v":9.2},{"t":466.1,"v":3.2},{"t":466.8,"v":4.1},{"t":467.5,"v":7.1},{"t":468.2,"v":2.4},{"t":468.9,"v":5.8},{"t":469.2,"v":8.3},{"t":469.4,"v":1.4},{"t":469.9,"v":3.6},{"t":470.6,"v":4.7},{"t":471.3,"v":6.4},{"t":472,"v":2.9},{"t":472.7,"v":5.1},{"t":473.4,"v":3.4},{"t":474.1,"v":2.1},{"t":474.8,"v":7.95},{"t":475.5,"v":4.2},{"t":476.2,"v":2.6},{"t":476.9,"v":3.3},{"t":477.6,"v":1.6},{"t":478.3,"v":2.4},{"t":478.9,"v":0.9},{"t":479.5,"v":1.9},{"t":480.1,"v":0.5},{"t":480.7,"v":1.3},{"t":481.3,"v":0.25},{"t":481.9,"v":0.8},{"t":482.5,"v":0.1},{"t":483.1,"v":0.55},{"t":483.7,"v":0.05},{"t":484.3,"v":0.3},{"t":96.8,"v":2.4},{"t":98,"v":3.6},{"t":99.4,"v":3.0},{"t":101.3,"v":4.2},{"t":103,"v":5.0},{"t":104.7,"v":3.6},{"t":106.4,"v":4.3},{"t":108.3,"v":3.4},{"t":110,"v":5.6},{"t":111.8,"v":3.9},{"t":113.6,"v":4.8},{"t":115.4,"v":3.6},{"t":117.2,"v":4.6},{"t":119.4,"v":3.9},{"t":121.5,"v":4.9},{"t":123.2,"v":2.8},{"t":125.6,"v":4.0},{"t":127.6,"v":5.1},{"t":129.6,"v":3.6},{"t":131.3,"v":4.6},{"t":133.1,"v":3.9},{"t":135.2,"v":4.4},{"t":137.6,"v":3.0},{"t":139.4,"v":4.2},{"t":141.3,"v":3.2},{"t":143.1,"v":4.4},{"t":145.1,"v":3.8},{"t":147.3,"v":4.3},{"t":149.5,"v":3.3},{"t":151.6,"v":4.1},{"t":153.4,"v":3.0},{"t":155.8,"v":3.9},{"t":158.1,"v":4.3},{"t":160.7,"v":3.1},{"t":162.6,"v":3.9},{"t":165.2,"v":4.2},{"t":167.6,"v":2.9},{"t":170,"v":3.6},{"t":172.7,"v":4.0},{"t":175.2,"v":3.1},{"t":177.9,"v":3.8},{"t":180.8,"v":2.9},{"t":183.3,"v":4.0},{"t":186.3,"v":3.3},{"t":189.5,"v":3.7},{"t":192.1,"v":2.7},{"t":194.4,"v":3.9},{"t":197,"v":3.0},{"t":199.3,"v":4.0},{"t":202.5,"v":3.2},{"t":205.5,"v":3.9},{"t":208.6,"v":2.9},{"t":211.4,"v":4.2},{"t":214.2,"v":3.0},{"t":217.2,"v":4.3},{"t":220.2,"v":3.2},{"t":223.4,"v":3.8},{"t":226.5,"v":3.1},{"t":229.7,"v":4.3},{"t":232.7,"v":3.3},{"t":235.7,"v":2.9},{"t":238.3,"v":3.7},{"t":240.7,"v":2.9},{"t":252.5,"v":0.1},{"t":258,"v":0.25},{"t":264,"v":0.05},{"t":270,"v":0.3},{"t":276.5,"v":0.1},{"t":282.5,"v":0.2},{"t":288.5,"v":0.05},{"t":294.5,"v":0.3},{"t":300,"v":0.1},{"t":306.5,"v":0.25},{"t":312.5,"v":0.1},{"t":318.5,"v":0.2},{"t":324.5,"v":0.1},{"t":330.5,"v":0.3},{"t":336.5,"v":0.1},{"t":342,"v":0.3},{"t":353.2,"v":3.7},{"t":356,"v":3.2},{"t":358.8,"v":4.1},{"t":361.2,"v":3.3},{"t":364.7,"v":3.9},{"t":367.6,"v":4.8},{"t":370.1,"v":3.9},{"t":372.9,"v":4.5},{"t":375.7,"v":3.6},{"t":378.9,"v":4.9},{"t":381.7,"v":4.2},{"t":384.4,"v":3.4},{"t":387.1,"v":4.6},{"t":390.5,"v":3.8},{"t":393.8,"v":4.4},{"t":396.6,"v":3.1},{"t":399.5,"v":4.3},{"t":402.4,"v":5.1},{"t":405.1,"v":4.0},{"t":408.2,"v":3.5},{"t":411,"v":4.8},{"t":414,"v":3.8},{"t":417.2,"v":5.4},{"t":420.4,"v":4.0},{"t":423.2,"v":5.0},{"t":426,"v":3.9},{"t":429.3,"v":4.6},{"t":432.2,"v":5.2},{"t":434.3,"v":3.7},{"t":437.5,"v":5.1},{"t":440.3,"v":4.2},{"t":443.3,"v":3.4},{"t":446.2,"v":4.7},{"t":449,"v":5.4},{"t":452,"v":4.0},{"t":455.2,"v":5.0},{"t":458.4,"v":4.3},{"t":461.3,"v":5.8},{"t":464.7,"v":4.0},{"t":467.8,"v":5.2},{"t":470.3,"v":4.3},{"t":473.7,"v":4.6},{"t":476.6,"v":3.8},{"t":479.2,"v":2.9}],
"g4":[{"t":104.5,"v":5.5},{"t":105,"v":9.05},{"t":105.5,"v":3.4},{"t":106,"v":8.45},{"t":106.2,"v":1.35},{"t":106.6,"v":4.8},{"t":107.2,"v":2.8},{"t":107.8,"v":6.2},{"t":108,"v":8.3},{"t":108.5,"v":1.27},{"t":109,"v":3.9},{"t":109.4,"v":7.95},{"t":110,"v":5.1},{"t":110.6,"v":2.5},{"t":111.2,"v":4.4},{"t":111.8,"v":6.6},{"t":112.4,"v":3.1},{"t":113,"v":5.7},{"t":113.9,"v":1.87},{"t":114.4,"v":4.0},{"t":115,"v":2.9},{"t":115.6,"v":6.9},{"t":116.2,"v":3.6},{"t":116.8,"v":5.2},{"t":117.4,"v":2.3},{"t":118,"v":4.7},{"t":118.5,"v":7.0},{"t":119,"v":8.35},{"t":119.6,"v":3.3},{"t":120.2,"v":5.9},{"t":120.8,"v":2.7},{"t":121.4,"v":4.3},{"t":122.2,"v":9.25},{"t":122.7,"v":3.0},{"t":123.2,"v":9.1},{"t":123.4,"v":0.62},{"t":123.8,"v":5.4},{"t":124.4,"v":3.7},{"t":125,"v":8.8},{"t":125.2,"v":1.77},{"t":125.6,"v":4.6},{"t":126.2,"v":2.5},{"t":126.5,"v":8.3},{"t":127.1,"v":6.1},{"t":127.7,"v":3.4},{"t":128.3,"v":5.0},{"t":129.2,"v":9.5},{"t":129.4,"v":1.35},{"t":129.8,"v":4.2},{"t":130.4,"v":2.8},{"t":131,"v":6.4},{"t":131.9,"v":2.23},{"t":132.5,"v":3.9},{"t":133.1,"v":5.6},{"t":133.7,"v":3.2},{"t":134.3,"v":7.3},{"t":134.9,"v":4.5},{"t":135.5,"v":2.6},{"t":136,"v":7.2},{"t":136.6,"v":5.3},{"t":137,"v":9.4},{"t":137.6,"v":3.0},{"t":138.2,"v":4.4},{"t":138.8,"v":6.0},{"t":139.4,"v":2.4},{"t":140,"v":5.1},{"t":140.6,"v":3.5},{"t":141.2,"v":7.9},{"t":141.8,"v":4.1},{"t":142.4,"v":2.9},{"t":143,"v":9.15},{"t":143.6,"v":5.8},{"t":144.2,"v":3.3},{"t":144.8,"v":4.7},{"t":145.4,"v":2.2},{"t":146,"v":6.3},{"t":146.6,"v":3.8},{"t":147.2,"v":5.0},{"t":147.8,"v":2.7},{"t":148.4,"v":1.71},{"t":148.7,"v":1.97},{"t":149.3,"v":4.3},{"t":149.9,"v":6.6},{"t":150.5,"v":3.1},{"t":151.1,"v":5.4},{"t":151.7,"v":2.5},{"t":152.3,"v":4.0},{"t":152.9,"v":3.4},{"t":153.5,"v":6.8},{"t":154.1,"v":2.8},{"t":154.7,"v":4.9},{"t":155.3,"v":3.6},{"t":155.9,"v":5.7},{"t":156.5,"v":2.3},{"t":157,"v":8.2},{"t":157.6,"v":4.4},{"t":158,"v":1.66},{"t":158.6,"v":3.2},{"t":159.2,"v":9.05},{"t":159.8,"v":5.1},{"t":160.4,"v":2.9},{"t":161,"v":4.2},{"t":161.6,"v":6.4},{"t":161.9,"v":1.09},{"t":162.5,"v":3.7},{"t":163.1,"v":5.5},{"t":163.7,"v":2.6},{"t":164.3,"v":4.6},{"t":164.9,"v":3.3},{"t":165.2,"v":9.0},{"t":165.8,"v":6.1},{"t":166.4,"v":2.2},{"t":167,"v":4.0},{"t":167.6,"v":5.3},{"t":168.2,"v":3.0},{"t":168.8,"v":7.1},{"t":169.4,"v":4.5},{"t":170,"v":2.7},{"t":170.6,"v":3.8},{"t":171.2,"v":1.25},{"t":171.8,"v":5.6},{"t":172.4,"v":3.4},{"t":173,"v":4.7},{"t":173.5,"v":8.2},{"t":174.1,"v":2.4},{"t":174.7,"v":6.0},{"t":175,"v":0.54},{"t":175.6,"v":3.9},{"t":176.2,"v":5.2},{"t":176.8,"v":2.8},{"t":177.2,"v":1.35},{"t":177.8,"v":4.3},{"t":178.4,"v":3.1},{"t":178.7,"v":8.4},{"t":179.3,"v":6.5},{"t":179.9,"v":2.5},{"t":180.5,"v":4.8},{"t":181.1,"v":3.5},{"t":182,"v":1.14},{"t":182.6,"v":5.8},{"t":183.2,"v":2.9},{"t":183.8,"v":4.1},{"t":184,"v":8.5},{"t":184.6,"v":3.2},{"t":185.2,"v":5.0},{"t":185.5,"v":7.25},{"t":186.2,"v":8.1},{"t":186.8,"v":2.6},{"t":187.4,"v":4.4},{"t":188,"v":3.6},{"t":188.5,"v":8.2},{"t":188.9,"v":7.2},{"t":189.5,"v":2.3},{"t":190.1,"v":5.3},{"t":190.7,"v":3.0},{"t":191.3,"v":4.6},{"t":191.9,"v":6.2},{"t":192.5,"v":2.7},{"t":193,"v":6.35},{"t":193.6,"v":3.8},{"t":194.2,"v":4.9},{"t":194.8,"v":2.4},{"t":195.2,"v":1.3},{"t":195.8,"v":5.7},{"t":196.4,"v":3.3},{"t":197,"v":4.2},{"t":197.6,"v":2.8},{"t":198.2,"v":8.05},{"t":198.8,"v":5.2},{"t":199.4,"v":3.6},{"t":199.7,"v":1.61},{"t":200.3,"v":4.5},{"t":200.9,"v":2.6},{"t":201.5,"v":6.0},{"t":202.1,"v":3.1},{"t":202.7,"v":4.7},{"t":203.4,"v":9.25},{"t":204,"v":2.9},{"t":204.2,"v":6.75},{"t":204.8,"v":5.0},{"t":205.4,"v":3.4},{"t":206,"v":2.2},{"t":206.6,"v":4.3},{"t":207.2,"v":7.0},{"t":207.8,"v":3.7},{"t":208.4,"v":5.5},{"t":209,"v":2.5},{"t":209.4,"v":1.35},{"t":210,"v":4.1},{"t":210.6,"v":3.0},{"t":211.2,"v":6.3},{"t":211.8,"v":4.6},{"t":212.4,"v":2.7},{"t":213,"v":5.3},{"t":213.6,"v":3.5},{"t":214.2,"v":4.0},{"t":214.8,"v":2.1},{"t":215.4,"v":5.9},{"t":216,"v":3.2},{"t":216.6,"v":4.8},{"t":217.2,"v":2.9},{"t":217.7,"v":7.15},{"t":218.3,"v":4.4},{"t":218.9,"v":3.6},{"t":219.2,"v":7.8},{"t":219.4,"v":1.25},{"t":219.9,"v":0.62},{"t":220.5,"v":5.1},{"t":221.1,"v":2.6},{"t":221.4,"v":7.65},{"t":222,"v":4.2},{"t":222.6,"v":3.1},{"t":223.2,"v":5.6},{"t":223.8,"v":2.4},{"t":224.4,"v":4.0},{"t":225,"v":3.4},{"t":225.9,"v":1.45},{"t":226.5,"v":5.2},{"t":227.1,"v":2.8},{"t":227.7,"v":4.6},{"t":228.3,"v":3.7},{"t":228.6,"v":7.3},{"t":229.2,"v":2.3},{"t":229.8,"v":5.8},{"t":230.4,"v":3.2},{"t":231.2,"v":6.9},{"t":231.4,"v":1.19},{"t":231.8,"v":4.5},{"t":232.4,"v":2.7},{"t":233,"v":3.9},{"t":233.6,"v":5.0},{"t":234.2,"v":2.5},{"t":234.5,"v":5.7},{"t":235.1,"v":3.4},{"t":235.4,"v":8.6},{"t":236,"v":4.2},{"t":236.4,"v":1.35},{"t":236.9,"v":0.62},{"t":237.5,"v":2.9},{"t":238.1,"v":4.7},{"t":238.7,"v":3.0},{"t":239.4,"v":8.35},{"t":239.9,"v":2.2},{"t":240.5,"v":3.6},{"t":241.1,"v":1.8},{"t":241.7,"v":2.7},{"t":242.3,"v":1.2},{"t":242.9,"v":4.3},{"t":243.5,"v":0.7},{"t":244.1,"v":1.6},{"t":244.7,"v":0.3},{"t":245.3,"v":2.4},{"t":245.9,"v":0.9},{"t":246.5,"v":0.15},{"t":247.1,"v":1.3},{"t":247.7,"v":0.5},{"t":248.3,"v":0.05},{"t":249,"v":0.8},{"t":250,"v":1.9},{"t":250.8,"v":0.3},{"t":251.6,"v":0.05},{"t":252.5,"v":0.6},{"t":253.5,"v":0.2},{"t":254.5,"v":1.0},{"t":255.5,"v":0.05},{"t":256.7,"v":1.55},{"t":257.5,"v":0.35},{"t":258.5,"v":0.05},{"t":259.5,"v":0.55},{"t":261,"v":0.2},{"t":262.5,"v":0.8},{"t":264,"v":0.05},{"t":265.5,"v":0.4},{"t":267,"v":0.15},{"t":268.5,"v":0.6},{"t":270,"v":0.05},{"t":271.5,"v":0.3},{"t":273,"v":0.9},{"t":274.5,"v":0.1},{"t":275.4,"v":1.25},{"t":276.5,"v":0.05},{"t":278,"v":0.45},{"t":279.5,"v":0.2},{"t":280.5,"v":1.15},{"t":282,"v":0.05},{"t":283.5,"v":0.5},{"t":285,"v":0.3},{"t":286.5,"v":0.05},{"t":288,"v":0.7},{"t":289.5,"v":0.2},{"t":291,"v":0.05},{"t":292.5,"v":0.45},{"t":294,"v":0.85},{"t":295.5,"v":0.1},{"t":297,"v":0.05},{"t":298.5,"v":0.55},{"t":300.6,"v":2.0},{"t":301.5,"v":0.25},{"t":303,"v":0.05},{"t":304.5,"v":0.6},{"t":306,"v":0.3},{"t":307.5,"v":0.05},{"t":309.1,"v":2.35},{"t":310,"v":0.4},{"t":311.5,"v":0.15},{"t":313,"v":0.7},{"t":314.5,"v":0.05},{"t":316,"v":0.35},{"t":317.7,"v":1.3},{"t":319,"v":0.05},{"t":320.5,"v":0.5},{"t":322,"v":0.2},{"t":323.5,"v":0.05},{"t":325,"v":0.65},{"t":326.5,"v":0.3},{"t":327.8,"v":1.55},{"t":329,"v":0.05},{"t":330.5,"v":0.45},{"t":332,"v":0.9},{"t":333.5,"v":0.1},{"t":335,"v":0.05},{"t":336.5,"v":0.6},{"t":338,"v":0.25},{"t":339.5,"v":0.05},{"t":341,"v":0.8},{"t":342.5,"v":0.3},{"t":343.5,"v":1.2},{"t":344.5,"v":0.5},{"t":345.3,"v":2.0},{"t":346,"v":1.1},{"t":346.8,"v":3.0},{"t":347.5,"v":1.8},{"t":348.2,"v":4.1},{"t":349,"v":2.6},{"t":349.6,"v":3.6},{"t":350,"v":9.7},{"t":350.6,"v":4.9},{"t":351.3,"v":2.3},{"t":351.9,"v":0.3},{"t":352.5,"v":5.6},{"t":353.2,"v":3.2},{"t":353.9,"v":4.4},{"t":354.6,"v":2.7},{"t":355.3,"v":6.3},{"t":356,"v":3.6},{"t":356.7,"v":5.0},{"t":357.1,"v":1.25},{"t":357.6,"v":7.65},{"t":358.3,"v":2.9},{"t":359,"v":4.7},{"t":359.4,"v":1.55},{"t":360,"v":3.4},{"t":360.6,"v":8.2},{"t":361.3,"v":5.4},{"t":362,"v":2.5},{"t":362.7,"v":4.0},{"t":363.4,"v":6.1},{"t":364.1,"v":3.1},{"t":364.6,"v":8.55},{"t":365.3,"v":4.6},{"t":365.8,"v":7.5},{"t":366.5,"v":2.8},{"t":367.2,"v":3.9},{"t":367.9,"v":5.6},{"t":368.3,"v":1.7},{"t":369,"v":3.3},{"t":369.7,"v":4.4},{"t":370.4,"v":6.4},{"t":371.1,"v":2.6},{"t":371.8,"v":5.1},{"t":372.5,"v":3.7},{"t":373.2,"v":4.8},{"t":373.5,"v":1.75},{"t":374.3,"v":7.25},{"t":374.5,"v":2.2},{"t":375,"v":3.0},{"t":375.7,"v":5.5},{"t":376.4,"v":4.1},{"t":377.1,"v":6.7},{"t":377.8,"v":2.9},{"t":378.5,"v":4.5},{"t":379.2,"v":3.4},{"t":379.9,"v":5.9},{"t":380.2,"v":9.45},{"t":380.9,"v":2.5},{"t":381.7,"v":9.55},{"t":382.4,"v":4.2},{"t":383.1,"v":3.1},{"t":383.6,"v":9.2},{"t":384.3,"v":5.3},{"t":385,"v":2.7},{"t":385.7,"v":4.6},{"t":386.2,"v":1.2},{"t":386.9,"v":3.6},{"t":387.6,"v":6.2},{"t":388.3,"v":2.9},{"t":389.1,"v":8.85},{"t":389.8,"v":4.9},{"t":390.6,"v":8.35},{"t":391.3,"v":3.3},{"t":392,"v":5.7},{"t":392.9,"v":9.85},{"t":393.6,"v":2.4},{"t":393.9,"v":9.3},{"t":394.6,"v":4.3},{"t":395.1,"v":8.35},{"t":395.8,"v":3.7},{"t":396.5,"v":5.2},{"t":397.2,"v":2.6},{"t":397.9,"v":6.5},{"t":398.6,"v":3.2},{"t":399.3,"v":8.65},{"t":399.6,"v":1.25},{"t":400.3,"v":4.8},{"t":401,"v":3.5},{"t":401.7,"v":5.6},{"t":402.4,"v":2.8},{"t":403.1,"v":4.1},{"t":403.8,"v":6.8},{"t":404.5,"v":1.45},{"t":405.2,"v":3.6},{"t":405.9,"v":5.0},{"t":406.6,"v":2.5},{"t":407.3,"v":4.4},{"t":407.7,"v":7.95},{"t":408.4,"v":3.0},{"t":409.1,"v":5.8},{"t":409.8,"v":3.9},{"t":410.7,"v":9.0},{"t":411.4,"v":2.7},{"t":412.1,"v":4.6},{"t":412.6,"v":9.1},{"t":413.3,"v":3.4},{"t":414,"v":6.0},{"t":414.7,"v":4.2},{"t":415.2,"v":1.65},{"t":415.9,"v":2.9},{"t":416.6,"v":5.3},{"t":417.3,"v":3.6},{"t":418,"v":4.7},{"t":418.5,"v":9.6},{"t":419.2,"v":6.6},{"t":419.9,"v":2.4},{"t":420.4,"v":8.75},{"t":421.1,"v":1.45},{"t":421.8,"v":3.8},{"t":422.5,"v":5.4},{"t":423.2,"v":3.1},{"t":423.9,"v":4.5},{"t":424.6,"v":7.0},{"t":425.3,"v":2.6},{"t":425.6,"v":9.85},{"t":426.3,"v":4.0},{"t":427,"v":5.7},{"t":427.8,"v":1.75},{"t":428.5,"v":3.3},{"t":429,"v":9.15},{"t":429.3,"v":8.6},{"t":430,"v":4.9},{"t":430.7,"v":2.8},{"t":431.4,"v":3.7},{"t":432.1,"v":6.3},{"t":432.8,"v":4.4},{"t":433.5,"v":2.3},{"t":434.2,"v":5.2},{"t":434.9,"v":3.5},{"t":435.6,"v":4.6},{"t":436.5,"v":9.25},{"t":437.2,"v":3.0},{"t":437.9,"v":6.1},{"t":438.6,"v":4.1},{"t":439.3,"v":2.5},{"t":440,"v":5.5},{"t":440.7,"v":3.4},{"t":441.2,"v":8.7},{"t":441.9,"v":4.8},{"t":442.6,"v":2.9},{"t":443.3,"v":3.9},{"t":444,"v":6.7},{"t":444.7,"v":4.3},{"t":445.4,"v":2.2},{"t":445.7,"v":9.5},{"t":446.4,"v":5.1},{"t":447.1,"v":3.2},{"t":447.5,"v":9.6},{"t":448.2,"v":4.5},{"t":448.9,"v":2.7},{"t":449.6,"v":6.2},{"t":450.3,"v":3.6},{"t":451,"v":4.9},{"t":451.7,"v":2.4},{"t":452.4,"v":8.75},{"t":453.1,"v":5.6},{"t":453.8,"v":3.1},{"t":454.5,"v":4.2},{"t":455.2,"v":6.9},{"t":455.9,"v":3.5},{"t":456.1,"v":1.15},{"t":456.8,"v":8.9},{"t":457.3,"v":1.2},{"t":458,"v":4.7},{"t":458.7,"v":2.8},{"t":459.4,"v":5.4},{"t":460.1,"v":3.7},{"t":460.6,"v":9.45},{"t":461.3,"v":4.4},{"t":462,"v":6.5},{"t":462.7,"v":2.6},{"t":463.4,"v":5.0},{"t":464.1,"v":3.3},{"t":464.3,"v":9.55},{"t":465,"v":4.1},{"t":465.7,"v":7.2},{"t":466.4,"v":2.9},{"t":467.1,"v":5.7},{"t":467.3,"v":9.95},{"t":468,"v":3.8},{"t":468.5,"v":8.35},{"t":469.2,"v":4.6},{"t":469.9,"v":1.8},{"t":470.6,"v":6.0},{"t":471.3,"v":3.4},{"t":472,"v":5.2},{"t":472.7,"v":2.5},{"t":473.2,"v":7.75},{"t":473.7,"v":0.3},{"t":474.4,"v":4.3},{"t":475,"v":3.0},{"t":475.4,"v":1.1},{"t":476,"v":5.1},{"t":476.6,"v":2.2},{"t":477.2,"v":3.5},{"t":477.8,"v":1.6},{"t":478.1,"v":4.45},{"t":478.4,"v":0.25},{"t":479,"v":2.4},{"t":479.6,"v":1.3},{"t":479.9,"v":6.95},{"t":480.2,"v":0.6},{"t":480.8,"v":1.9},{"t":481.4,"v":0.15},{"t":482.1,"v":0.35},{"t":482.7,"v":1.0},{"t":483.2,"v":0.6},{"t":483.8,"v":0.1},{"t":484.4,"v":0.4},{"t":105.2,"v":4.4},{"t":107,"v":5.8},{"t":108.8,"v":4.3},{"t":110.3,"v":3.5},{"t":112,"v":5.1},{"t":113.5,"v":3.9},{"t":115.3,"v":5.4},{"t":117.1,"v":4.4},{"t":118.8,"v":5.8},{"t":120.5,"v":4.1},{"t":122.4,"v":5.2},{"t":124.1,"v":4.6},{"t":126,"v":3.6},{"t":127.4,"v":5.8},{"t":129.5,"v":4.7},{"t":131.3,"v":3.8},{"t":133.3,"v":4.6},{"t":135.1,"v":5.6},{"t":137.3,"v":4.1},{"t":139.1,"v":3.6},{"t":141.5,"v":5.4},{"t":143.3,"v":4.3},{"t":145.1,"v":3.6},{"t":147.5,"v":4.8},{"t":150.2,"v":5.3},{"t":152.6,"v":3.7},{"t":155,"v":5.1},{"t":157.3,"v":3.9},{"t":160.1,"v":4.6},{"t":162.8,"v":3.5},{"t":165.5,"v":4.8},{"t":168.5,"v":3.9},{"t":171.5,"v":4.9},{"t":174.4,"v":3.6},{"t":177.5,"v":4.6},{"t":180.8,"v":3.8},{"t":183.5,"v":4.7},{"t":186.5,"v":3.5},{"t":189.8,"v":4.2},{"t":192.8,"v":3.2},{"t":196.1,"v":4.6},{"t":199.1,"v":4.0},{"t":202.4,"v":3.5},{"t":205.7,"v":4.4},{"t":208.7,"v":3.1},{"t":211.5,"v":4.3},{"t":214.5,"v":3.6},{"t":217.5,"v":4.0},{"t":220.8,"v":3.4},{"t":223.5,"v":4.4},{"t":226.8,"v":3.3},{"t":229.5,"v":4.1},{"t":232.7,"v":3.6},{"t":235.7,"v":4.5},{"t":238.4,"v":3.7},{"t":240.8,"v":2.9},{"t":252,"v":0.1},{"t":260,"v":0.25},{"t":266,"v":0.05},{"t":272,"v":0.3},{"t":277.2,"v":0.1},{"t":284,"v":0.2},{"t":290,"v":0.1},{"t":296,"v":0.3},{"t":302,"v":0.1},{"t":308,"v":0.2},{"t":315,"v":0.1},{"t":321,"v":0.3},{"t":328,"v":0.1},{"t":334,"v":0.25},{"t":340,"v":0.1},{"t":354,"v":3.8},{"t":356.4,"v":4.5},{"t":358.7,"v":3.6},{"t":361.6,"v":4.3},{"t":364.4,"v":5.1},{"t":367,"v":4.2},{"t":369.4,"v":3.6},{"t":372.2,"v":4.9},{"t":375.2,"v":3.7},{"t":378.2,"v":4.4},{"t":381.3,"v":5.0},{"t":384.7,"v":3.9},{"t":387.3,"v":4.6},{"t":390.3,"v":3.8},{"t":393.3,"v":4.9},{"t":396.2,"v":4.1},{"t":399,"v":5.3},{"t":402.1,"v":4.2},{"t":404.9,"v":3.6},{"t":408,"v":4.8},{"t":411.1,"v":4.2},{"t":413.7,"v":5.1},{"t":416.9,"v":4.1},{"t":419.6,"v":5.0},{"t":422.2,"v":4.4},{"t":425,"v":3.6},{"t":428.1,"v":4.4},{"t":431.1,"v":5.3},{"t":434.6,"v":4.1},{"t":437.5,"v":5.0},{"t":440.4,"v":4.4},{"t":443,"v":3.6},{"t":446.1,"v":5.4},{"t":449.3,"v":4.4},{"t":452.1,"v":3.7},{"t":455.6,"v":5.2},{"t":458.3,"v":4.3},{"t":461.7,"v":5.3},{"t":464.8,"v":4.6},{"t":467.7,"v":3.8},{"t":470.3,"v":5.0},{"t":473,"v":4.2},{"t":475.7,"v":4.0},{"t":478.7,"v":3.0}]
},
"vconcat":[
{"width":1136,"height":320.5,"layer":[
{"data":{"name":"g1"},"mark":{"type":"point","filled":true,"size":1450,"opacity":1},"encoding":{"x":{"field":"t","type":"quantitative","scale":{"domain":[74.3,503.8],"nice":false,"zero":false},"axis":{"values":[100,150,200,250,300,350,400,450,500],"labels":false,"title":null}},"y":{"field":"v","type":"quantitative","scale":{"domain":[0,10],"nice":false},"axis":{"values":[0,2,4,6,8,10],"format":"d","title":"dH*(10)/dt or dE/dt [μSv/h]","titleColor":"red","titlePadding":10}},"color":{"datum":"AIRDOS","type":"nominal","scale":{"domain":["AIRDOS","AIRDOS avg","CARI 7"],"range":["gray","red","blue"]}},"shape":{"datum":"AIRDOS","type":"nominal","scale":{"domain":["AIRDOS","AIRDOS avg","CARI 7"],"range":["M0.12,0A0.12,0.12,0,1,1,-0.12,0A0.12,0.12,0,1,1,0.12,0Z","M-1,-0.045H1V0.045H-1Z","M0.12,0A0.12,0.12,0,1,1,-0.12,0A0.12,0.12,0,1,1,0.12,0Z"]}}}},
{"data":{"name":"r1"},"mark":{"type":"line","strokeWidth":1.5},"encoding":{"x":{"field":"t","type":"quantitative"},"y":{"field":"v","type":"quantitative"},"color":{"datum":"AIRDOS avg","type":"nominal"}}},
{"data":{"name":"c"},"mark":{"type":"point","filled":true,"size":1900,"opacity":1},"encoding":{"x":{"field":"t","type":"quantitative"},"y":{"field":"v","type":"quantitative"},"color":{"datum":"CARI 7","type":"nominal"},"shape":{"datum":"CARI 7","type":"nominal"}}}
]},
{"width":1136,"height":320.5,"layer":[
{"data":{"name":"g2"},"mark":{"type":"point","filled":true,"size":1450,"opacity":1},"encoding":{"x":{"field":"t","type":"quantitative","scale":{"domain":[74.3,503.8],"nice":false,"zero":false},"axis":{"values":[100,150,200,250,300,350,400,450,500],"labels":false,"title":null}},"y":{"field":"v","type":"quantitative","scale":{"domain":[0,10],"nice":false},"axis":{"values":[0,2,4,6,8,10],"format":"d","title":"dH*(10)/dt or dE/dt [μSv/h]","titleColor":"red","titlePadding":10}},"color":{"datum":"AIRDOS","type":"nominal","scale":{"domain":["AIRDOS","AIRDOS avg","CARI 7"],"range":["gray","red","blue"]}},"shape":{"datum":"AIRDOS","type":"nominal","scale":{"domain":["AIRDOS","AIRDOS avg","CARI 7"],"range":["M0.12,0A0.12,0.12,0,1,1,-0.12,0A0.12,0.12,0,1,1,0.12,0Z","M-1,-0.045H1V0.045H-1Z","M0.12,0A0.12,0.12,0,1,1,-0.12,0A0.12,0.12,0,1,1,0.12,0Z"]}}}},
{"data":{"name":"r2"},"mark":{"type":"line","strokeWidth":1.5},"encoding":{"x":{"field":"t","type":"quantitative"},"y":{"field":"v","type":"quantitative"},"color":{"datum":"AIRDOS avg","type":"nominal"}}},
{"data":{"name":"c"},"mark":{"type":"point","filled":true,"size":1900,"opacity":1},"encoding":{"x":{"field":"t","type":"quantitative"},"y":{"field":"v","type":"quantitative"},"color":{"datum":"CARI 7","type":"nominal"},"shape":{"datum":"CARI 7","type":"nominal"}}}
]},
{"width":1136,"height":320.5,"layer":[
{"data":{"name":"g3"},"mark":{"type":"point","filled":true,"size":1450,"opacity":1},"encoding":{"x":{"field":"t","type":"quantitative","scale":{"domain":[74.3,503.8],"nice":false,"zero":false},"axis":{"values":[100,150,200,250,300,350,400,450,500],"labels":false,"title":null}},"y":{"field":"v","type":"quantitative","scale":{"domain":[0,10],"nice":false},"axis":{"values":[0,2,4,6,8,10],"format":"d","title":"dH*(10)/dt or dE/dt [μSv/h]","titleColor":"red","titlePadding":10}},"color":{"datum":"AIRDOS","type":"nominal","scale":{"domain":["AIRDOS","AIRDOS avg","CARI 7"],"range":["gray","red","blue"]}},"shape":{"datum":"AIRDOS","type":"nominal","scale":{"domain":["AIRDOS","AIRDOS avg","CARI 7"],"range":["M0.12,0A0.12,0.12,0,1,1,-0.12,0A0.12,0.12,0,1,1,0.12,0Z","M-1,-0.045H1V0.045H-1Z","M0.12,0A0.12,0.12,0,1,1,-0.12,0A0.12,0.12,0,1,1,0.12,0Z"]}}}},
{"data":{"name":"r3"},"mark":{"type":"line","strokeWidth":1.5},"encoding":{"x":{"field":"t","type":"quantitative"},"y":{"field":"v","type":"quantitative"},"color":{"datum":"AIRDOS avg","type":"nominal"}}},
{"data":{"name":"c"},"mark":{"type":"point","filled":true,"size":1900,"opacity":1},"encoding":{"x":{"field":"t","type":"quantitative"},"y":{"field":"v","type":"quantitative"},"color":{"datum":"CARI 7","type":"nominal"},"shape":{"datum":"CARI 7","type":"nominal"}}}
]},
{"width":1136,"height":320.5,"layer":[
{"data":{"name":"g4"},"mark":{"type":"point","filled":true,"size":1450,"opacity":1},"encoding":{"x":{"field":"t","type":"quantitative","scale":{"domain":[74.3,503.8],"nice":false,"zero":false},"axis":{"values":[100,150,200,250,300,350,400,450,500],"title":"Time [minutes]","titlePadding":3}},"y":{"field":"v","type":"quantitative","scale":{"domain":[0,10],"nice":false},"axis":{"values":[0,2,4,6,8,10],"format":"d","title":"dH*(10)/dt or dE/dt [μSv/h]","titleColor":"red","titlePadding":10}},"color":{"datum":"AIRDOS","type":"nominal","scale":{"domain":["AIRDOS","AIRDOS avg","CARI 7"],"range":["gray","red","blue"]}},"shape":{"datum":"AIRDOS","type":"nominal","scale":{"domain":["AIRDOS","AIRDOS avg","CARI 7"],"range":["M0.12,0A0.12,0.12,0,1,1,-0.12,0A0.12,0.12,0,1,1,0.12,0Z","M-1,-0.045H1V0.045H-1Z","M0.12,0A0.12,0.12,0,1,1,-0.12,0A0.12,0.12,0,1,1,0.12,0Z"]}}}},
{"data":{"name":"r4"},"mark":{"type":"line","strokeWidth":1.5},"encoding":{"x":{"field":"t","type":"quantitative"},"y":{"field":"v","type":"quantitative"},"color":{"datum":"AIRDOS avg","type":"nominal"}}},
{"data":{"name":"c"},"mark":{"type":"point","filled":true,"size":1900,"opacity":1},"encoding":{"x":{"field":"t","type":"quantitative"},"y":{"field":"v","type":"quantitative"},"color":{"datum":"CARI 7","type":"nominal"},"shape":{"datum":"CARI 7","type":"nominal"}}}
]}
]
}
